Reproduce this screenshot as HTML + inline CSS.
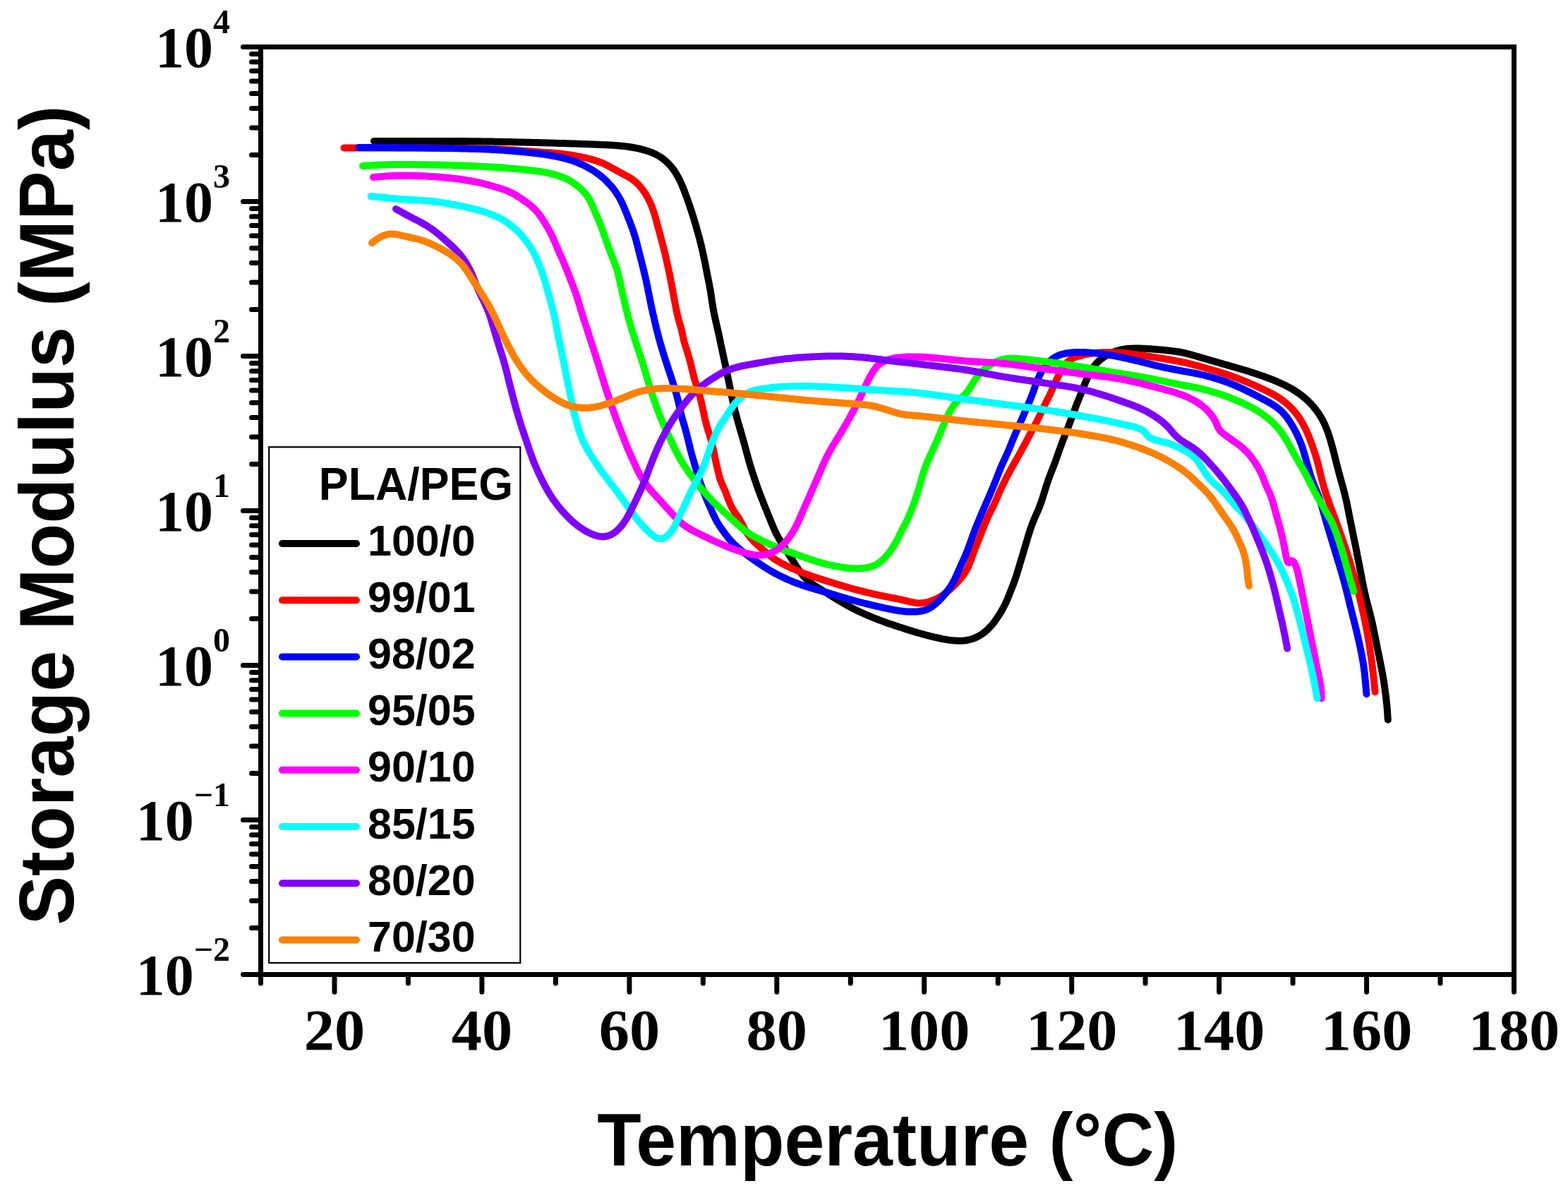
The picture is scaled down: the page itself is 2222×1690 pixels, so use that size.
<!DOCTYPE html>
<html><head><meta charset="utf-8"><title>Storage Modulus vs Temperature</title>
<style>
html,body{margin:0;padding:0;background:#fff;}
body{width:2222px;height:1690px;overflow:hidden;}
svg{display:block;}
.ser{font-family:"Liberation Serif","Times New Roman",serif;font-weight:bold;}
.san{font-family:"Liberation Sans",Arial,sans-serif;font-weight:bold;}
</style></head><body>
<svg width="2222" height="1690" viewBox="0 0 2222 1690">
<rect x="0" y="0" width="2222" height="1690" fill="#fff"/>

<path d="M369.5,1380.5H344.5 M369.5,1314.6H356.5 M369.5,1276.0H356.5 M369.5,1248.6H356.5 M369.5,1227.4H356.5 M369.5,1210.1H356.5 M369.5,1195.4H356.5 M369.5,1182.7H356.5 M369.5,1171.5H356.5 M369.5,1161.5H344.5 M369.5,1095.6H356.5 M369.5,1057.0H356.5 M369.5,1029.6H356.5 M369.5,1008.4H356.5 M369.5,991.1H356.5 M369.5,976.4H356.5 M369.5,963.7H356.5 M369.5,952.5H356.5 M369.5,942.5H344.5 M369.5,876.6H356.5 M369.5,838.0H356.5 M369.5,810.6H356.5 M369.5,789.4H356.5 M369.5,772.1H356.5 M369.5,757.4H356.5 M369.5,744.7H356.5 M369.5,733.5H356.5 M369.5,723.5H344.5 M369.5,657.6H356.5 M369.5,619.0H356.5 M369.5,591.6H356.5 M369.5,570.4H356.5 M369.5,553.1H356.5 M369.5,538.4H356.5 M369.5,525.7H356.5 M369.5,514.5H356.5 M369.5,504.5H344.5 M369.5,438.6H356.5 M369.5,400.0H356.5 M369.5,372.6H356.5 M369.5,351.4H356.5 M369.5,334.1H356.5 M369.5,319.4H356.5 M369.5,306.7H356.5 M369.5,295.5H356.5 M369.5,285.5H344.5 M369.5,219.6H356.5 M369.5,181.0H356.5 M369.5,153.6H356.5 M369.5,132.4H356.5 M369.5,115.1H356.5 M369.5,100.4H356.5 M369.5,87.7H356.5 M369.5,76.5H356.5 M369.5,66.5H344.5 M369.5,1380.5V1393.0 M474.0,1380.5V1405.3 M578.4,1380.5V1393.0 M682.9,1380.5V1405.3 M787.4,1380.5V1393.0 M891.9,1380.5V1405.3 M996.3,1380.5V1393.0 M1100.8,1380.5V1405.3 M1205.3,1380.5V1393.0 M1309.7,1380.5V1405.3 M1414.2,1380.5V1393.0 M1518.7,1380.5V1405.3 M1623.1,1380.5V1393.0 M1727.6,1380.5V1405.3 M1832.1,1380.5V1393.0 M1936.6,1380.5V1405.3 M2041.0,1380.5V1393.0 M2145.5,1380.5V1405.3" stroke="#000" stroke-width="7" fill="none" stroke-linecap="round"/>
<rect x="369.5" y="66.5" width="1776.0" height="1314.0" fill="none" stroke="#000" stroke-width="7"/>
<text class="ser" x="326" y="1409.0" text-anchor="end" font-size="82">10<tspan font-size="48" dy="-48">−2</tspan></text>
<text class="ser" x="326" y="1190.0" text-anchor="end" font-size="82">10<tspan font-size="48" dy="-48">−1</tspan></text>
<text class="ser" x="326" y="971.0" text-anchor="end" font-size="82">10<tspan font-size="48" dy="-48">0</tspan></text>
<text class="ser" x="326" y="752.0" text-anchor="end" font-size="82">10<tspan font-size="48" dy="-48">1</tspan></text>
<text class="ser" x="326" y="533.0" text-anchor="end" font-size="82">10<tspan font-size="48" dy="-48">2</tspan></text>
<text class="ser" x="326" y="314.0" text-anchor="end" font-size="82">10<tspan font-size="48" dy="-48">3</tspan></text>
<text class="ser" x="326" y="95.0" text-anchor="end" font-size="82">10<tspan font-size="48" dy="-48">4</tspan></text>
<text class="ser" transform="translate(474.0,1487) scale(1.035,1)" x="0" y="0" text-anchor="middle" font-size="83.5">20</text>
<text class="ser" transform="translate(682.9,1487) scale(1.035,1)" x="0" y="0" text-anchor="middle" font-size="83.5">40</text>
<text class="ser" transform="translate(891.9,1487) scale(1.035,1)" x="0" y="0" text-anchor="middle" font-size="83.5">60</text>
<text class="ser" transform="translate(1100.8,1487) scale(1.035,1)" x="0" y="0" text-anchor="middle" font-size="83.5">80</text>
<text class="ser" transform="translate(1309.7,1487) scale(1.035,1)" x="0" y="0" text-anchor="middle" font-size="83.5">100</text>
<text class="ser" transform="translate(1518.7,1487) scale(1.035,1)" x="0" y="0" text-anchor="middle" font-size="83.5">120</text>
<text class="ser" transform="translate(1727.6,1487) scale(1.035,1)" x="0" y="0" text-anchor="middle" font-size="83.5">140</text>
<text class="ser" transform="translate(1936.6,1487) scale(1.035,1)" x="0" y="0" text-anchor="middle" font-size="83.5">160</text>
<text class="ser" transform="translate(2145.5,1487) scale(1.035,1)" x="0" y="0" text-anchor="middle" font-size="83.5">180</text>
<text class="san" transform="translate(1257.8,1651) scale(0.974,1)" x="0" y="0" text-anchor="middle" font-size="105">Temperature (°C)</text>
<text class="san" transform="translate(104,730) rotate(-90) scale(0.959,1)" x="0" y="0" text-anchor="middle" font-size="109">Storage Modulus (MPa)</text>
<rect x="381.2" y="633.3" width="356.1" height="730.7" fill="#fff" stroke="#000" stroke-width="2.2"/>
<text class="san" transform="translate(451.8,708) scale(0.965,1)" x="0" y="0" font-size="65">PLA/PEG</text>
<line x1="400" y1="770.0" x2="505" y2="770.0" stroke="#000000" stroke-width="10" stroke-linecap="round"/>
<text class="san" x="521" y="786.5" font-size="61">100/0</text>
<line x1="400" y1="850.2" x2="505" y2="850.2" stroke="#FF0000" stroke-width="10" stroke-linecap="round"/>
<text class="san" x="521" y="866.7" font-size="61">99/01</text>
<line x1="400" y1="930.4" x2="505" y2="930.4" stroke="#0000FF" stroke-width="10" stroke-linecap="round"/>
<text class="san" x="521" y="946.9" font-size="61">98/02</text>
<line x1="400" y1="1010.6" x2="505" y2="1010.6" stroke="#00FF00" stroke-width="10" stroke-linecap="round"/>
<text class="san" x="521" y="1027.1" font-size="61">95/05</text>
<line x1="400" y1="1090.8" x2="505" y2="1090.8" stroke="#FF00FF" stroke-width="10" stroke-linecap="round"/>
<text class="san" x="521" y="1107.3" font-size="61">90/10</text>
<line x1="400" y1="1171.0" x2="505" y2="1171.0" stroke="#00FFFF" stroke-width="10" stroke-linecap="round"/>
<text class="san" x="521" y="1187.5" font-size="61">85/15</text>
<line x1="400" y1="1251.2" x2="505" y2="1251.2" stroke="#8000FF" stroke-width="10" stroke-linecap="round"/>
<text class="san" x="521" y="1267.7" font-size="61">80/20</text>
<line x1="400" y1="1331.4" x2="505" y2="1331.4" stroke="#FF8000" stroke-width="10" stroke-linecap="round"/>
<text class="san" x="521" y="1347.9" font-size="61">70/30</text>
<path d="M530.0,200.0 533.0,200.0 536.0,200.0 539.0,200.0 542.0,200.0 545.0,200.0 548.0,200.0 551.0,200.0 554.0,200.0 557.0,200.0 560.0,200.0 563.0,200.0 566.0,200.0 569.0,200.0 572.0,200.0 575.0,200.0 578.0,200.0 581.0,200.0 584.0,200.0 587.0,200.0 590.0,200.0 593.0,200.0 596.0,200.0 599.0,200.0 602.0,200.0 605.0,200.0 608.0,200.0 611.0,200.0 614.0,200.0 617.0,200.0 620.0,200.0 623.0,200.0 626.0,200.0 629.0,200.0 632.0,200.0 635.0,200.0 638.0,200.1 641.0,200.1 644.0,200.1 647.0,200.1 650.0,200.1 653.0,200.1 656.0,200.1 659.0,200.1 662.0,200.2 665.0,200.2 668.0,200.2 671.0,200.2 674.0,200.3 677.0,200.3 680.0,200.3 683.0,200.4 686.0,200.4 689.0,200.5 692.0,200.5 695.0,200.6 698.0,200.6 701.0,200.7 704.0,200.7 707.0,200.8 710.0,200.8 713.0,200.9 716.0,201.0 719.0,201.0 722.0,201.1 725.0,201.2 728.0,201.2 731.0,201.3 734.0,201.4 737.0,201.4 740.0,201.5 743.0,201.6 746.0,201.7 749.0,201.7 752.0,201.8 755.0,201.9 758.0,202.0 761.0,202.0 764.0,202.1 767.0,202.2 770.0,202.3 773.0,202.3 776.0,202.4 779.0,202.5 782.0,202.6 785.0,202.7 788.0,202.8 791.0,202.9 794.0,202.9 797.0,203.0 800.0,203.1 803.0,203.2 806.0,203.3 809.0,203.4 812.0,203.5 815.0,203.6 818.0,203.7 821.0,203.8 824.0,203.9 827.0,204.0 830.0,204.1 833.0,204.2 836.0,204.3 839.0,204.4 842.0,204.5 845.0,204.7 848.0,204.8 851.0,204.9 854.0,205.1 857.0,205.2 860.0,205.3 863.0,205.5 866.0,205.6 868.9,205.8 871.9,206.0 874.9,206.2 877.9,206.4 880.9,206.7 883.9,207.0 886.9,207.4 889.8,207.8 892.8,208.2 895.8,208.7 898.7,209.2 901.7,209.8 904.6,210.4 907.5,211.1 910.4,211.9 913.3,212.6 916.2,213.5 919.0,214.4 921.8,215.4 924.6,216.5 927.3,217.7 930.0,219.0 932.6,220.5 935.2,222.0 937.6,223.7 940.0,225.4 942.4,227.3 944.6,229.3 946.7,231.4 948.8,233.5 950.8,235.7 952.7,238.0 954.5,240.4 956.2,242.9 957.8,245.4 959.3,247.9 960.8,250.6 962.2,253.2 963.5,255.9 964.8,258.6 966.0,261.4 967.2,264.1 968.3,266.9 969.4,269.7 970.5,272.5 971.5,275.3 972.6,278.1 973.6,280.9 974.6,283.8 975.6,286.6 976.6,289.4 977.5,292.3 978.5,295.1 979.4,298.0 980.4,300.8 981.3,303.7 982.2,306.5 983.1,309.4 983.9,312.3 984.8,315.1 985.7,318.0 986.5,320.9 987.3,323.8 988.1,326.7 988.9,329.5 989.7,332.4 990.5,335.3 991.3,338.2 992.0,341.1 992.8,344.1 993.5,347.0 994.2,349.9 994.9,352.8 995.5,355.7 996.2,358.7 996.8,361.6 997.5,364.5 998.1,367.5 998.7,370.4 999.3,373.3 999.8,376.3 1000.4,379.2 1001.0,382.2 1001.6,385.1 1002.1,388.1 1002.7,391.0 1003.3,393.9 1003.9,396.9 1004.5,399.8 1005.1,402.8 1005.6,405.7 1006.2,408.7 1006.7,411.6 1007.1,414.6 1007.6,417.6 1008.1,420.5 1008.5,423.5 1008.9,426.5 1009.4,429.4 1009.8,432.4 1010.3,435.3 1010.8,438.3 1011.4,441.2 1012.0,444.2 1012.6,447.1 1013.2,450.1 1013.9,453.0 1014.5,455.9 1015.2,458.8 1015.9,461.8 1016.6,464.7 1017.2,467.6 1017.9,470.5 1018.5,473.5 1019.2,476.4 1019.8,479.3 1020.4,482.3 1021.0,485.2 1021.6,488.1 1022.3,491.1 1022.9,494.0 1023.5,496.9 1024.1,499.9 1024.8,502.8 1025.4,505.7 1026.0,508.7 1026.6,511.6 1027.3,514.5 1027.9,517.5 1028.5,520.4 1029.1,523.4 1029.7,526.3 1030.4,529.2 1031.0,532.2 1031.6,535.1 1032.2,538.0 1032.8,541.0 1033.4,543.9 1034.0,546.9 1034.6,549.8 1035.2,552.7 1035.8,555.7 1036.4,558.6 1037.0,561.6 1037.6,564.5 1038.2,567.4 1038.9,570.4 1039.5,573.3 1040.2,576.2 1040.9,579.1 1041.6,582.0 1042.4,584.9 1043.1,587.8 1043.9,590.7 1044.7,593.6 1045.5,596.5 1046.3,599.4 1047.2,602.3 1048.0,605.2 1048.8,608.1 1049.7,610.9 1050.5,613.8 1051.3,616.7 1052.2,619.6 1053.0,622.5 1053.8,625.4 1054.6,628.3 1055.4,631.1 1056.2,634.0 1057.0,636.9 1057.7,639.8 1058.5,642.7 1059.3,645.6 1060.1,648.5 1060.9,651.4 1061.7,654.3 1062.5,657.2 1063.4,660.1 1064.3,662.9 1065.2,665.8 1066.1,668.6 1067.0,671.5 1068.0,674.3 1068.9,677.2 1069.9,680.0 1070.9,682.9 1071.8,685.7 1072.8,688.5 1073.8,691.4 1074.8,694.2 1075.9,697.0 1076.9,699.8 1078.0,702.6 1079.1,705.4 1080.2,708.2 1081.3,711.0 1082.4,713.8 1083.5,716.6 1084.6,719.3 1085.8,722.1 1086.9,724.9 1088.0,727.7 1089.1,730.5 1090.3,733.2 1091.4,736.0 1092.5,738.8 1093.7,741.6 1094.8,744.4 1096.0,747.1 1097.2,749.9 1098.4,752.6 1099.7,755.3 1101.1,757.9 1102.5,760.6 1104.0,763.2 1105.5,765.8 1107.1,768.3 1108.6,770.9 1110.2,773.4 1111.8,776.0 1113.5,778.5 1115.1,781.0 1116.7,783.6 1118.3,786.1 1119.9,788.6 1121.5,791.2 1123.1,793.7 1124.7,796.2 1126.3,798.8 1127.9,801.3 1129.6,803.8 1131.3,806.3 1133.0,808.7 1134.7,811.2 1136.5,813.5 1138.4,815.8 1140.4,818.0 1142.5,820.2 1144.7,822.2 1147.0,824.1 1149.3,825.9 1151.8,827.7 1154.2,829.3 1156.8,831.0 1159.3,832.6 1161.8,834.1 1164.4,835.7 1167.0,837.3 1169.5,838.9 1172.1,840.4 1174.6,842.0 1177.1,843.6 1179.7,845.2 1182.2,846.8 1184.8,848.4 1187.3,849.9 1189.9,851.5 1192.5,853.0 1195.1,854.5 1197.7,856.0 1200.3,857.5 1202.9,858.9 1205.6,860.4 1208.2,861.7 1210.9,863.1 1213.6,864.4 1216.3,865.7 1219.0,867.0 1221.8,868.2 1224.5,869.5 1227.2,870.7 1230.0,871.9 1232.8,873.0 1235.5,874.2 1238.3,875.3 1241.1,876.4 1243.9,877.5 1246.7,878.6 1249.5,879.6 1252.3,880.7 1255.1,881.7 1258.0,882.7 1260.8,883.7 1263.6,884.6 1266.5,885.6 1269.3,886.5 1272.2,887.5 1275.0,888.4 1277.9,889.3 1280.7,890.2 1283.6,891.2 1286.5,892.1 1289.3,893.0 1292.2,893.9 1295.0,894.8 1297.9,895.6 1300.8,896.5 1303.7,897.3 1306.6,898.1 1309.5,898.9 1312.4,899.7 1315.3,900.4 1318.2,901.2 1321.1,901.9 1324.0,902.6 1326.9,903.2 1329.9,903.9 1332.8,904.5 1335.7,905.1 1338.7,905.6 1341.6,906.1 1344.6,906.6 1347.6,907.0 1350.5,907.3 1353.5,907.5 1356.5,907.7 1359.5,907.7 1362.5,907.7 1365.4,907.5 1368.4,907.2 1371.3,906.7 1374.2,906.0 1377.1,905.2 1379.9,904.3 1382.7,903.1 1385.3,901.9 1388.0,900.5 1390.5,898.9 1392.9,897.3 1395.3,895.5 1397.6,893.6 1399.8,891.5 1401.9,889.4 1403.9,887.2 1405.9,885.0 1407.8,882.6 1409.6,880.3 1411.3,877.8 1413.0,875.4 1414.7,872.9 1416.3,870.4 1417.9,867.8 1419.4,865.2 1420.9,862.6 1422.3,860.0 1423.7,857.3 1425.0,854.6 1426.2,851.9 1427.4,849.2 1428.6,846.4 1429.7,843.6 1430.8,840.8 1431.9,838.0 1433.0,835.2 1434.1,832.5 1435.2,829.7 1436.3,826.9 1437.3,824.1 1438.3,821.2 1439.3,818.4 1440.2,815.6 1441.1,812.7 1442.0,809.8 1442.9,807.0 1443.7,804.1 1444.6,801.2 1445.5,798.3 1446.3,795.5 1447.2,792.6 1448.1,789.7 1448.9,786.8 1449.8,784.0 1450.7,781.1 1451.5,778.2 1452.4,775.3 1453.2,772.5 1454.1,769.6 1454.9,766.7 1455.8,763.8 1456.6,761.0 1457.5,758.1 1458.4,755.2 1459.3,752.4 1460.2,749.5 1461.2,746.7 1462.2,743.9 1463.3,741.1 1464.4,738.3 1465.6,735.5 1466.7,732.7 1467.9,730.0 1469.1,727.2 1470.3,724.5 1471.5,721.7 1472.6,719.0 1473.7,716.2 1474.8,713.4 1475.7,710.5 1476.7,707.7 1477.6,704.8 1478.5,702.0 1479.4,699.1 1480.3,696.2 1481.2,693.4 1482.0,690.5 1483.0,687.6 1483.9,684.8 1484.8,682.0 1485.8,679.1 1486.9,676.3 1487.9,673.5 1489.0,670.7 1490.1,667.9 1491.2,665.1 1492.3,662.4 1493.4,659.6 1494.5,656.7 1495.5,653.9 1496.5,651.1 1497.5,648.3 1498.5,645.4 1499.5,642.6 1500.5,639.8 1501.5,636.9 1502.5,634.1 1503.5,631.3 1504.6,628.5 1505.6,625.7 1506.7,622.9 1507.8,620.1 1508.9,617.3 1510.0,614.5 1511.1,611.7 1512.2,608.9 1513.3,606.1 1514.4,603.3 1515.4,600.5 1516.5,597.7 1517.6,594.9 1518.6,592.1 1519.7,589.3 1520.7,586.5 1521.7,583.7 1522.8,580.9 1523.8,578.0 1524.8,575.2 1525.9,572.4 1527.0,569.6 1528.1,566.9 1529.2,564.1 1530.4,561.3 1531.5,558.5 1532.6,555.7 1533.6,552.9 1534.7,550.1 1535.8,547.3 1537.0,544.6 1538.1,541.8 1539.3,539.0 1540.6,536.3 1541.8,533.6 1543.1,530.9 1544.5,528.2 1545.9,525.6 1547.5,523.1 1549.1,520.6 1550.9,518.2 1552.8,515.9 1554.8,513.7 1556.9,511.7 1559.2,509.7 1561.5,507.9 1563.9,506.2 1566.4,504.5 1569.0,503.0 1571.6,501.6 1574.3,500.2 1577.0,499.0 1579.8,498.0 1582.6,497.0 1585.5,496.2 1588.4,495.5 1591.3,494.9 1594.2,494.4 1597.2,494.1 1600.2,493.8 1603.2,493.7 1606.2,493.6 1609.2,493.5 1612.2,493.5 1615.2,493.6 1618.2,493.7 1621.2,493.8 1624.2,494.0 1627.1,494.2 1630.1,494.3 1633.1,494.6 1636.1,494.8 1639.1,495.0 1642.1,495.3 1645.1,495.5 1648.1,495.8 1651.1,496.1 1654.1,496.4 1657.0,496.8 1660.0,497.1 1663.0,497.5 1666.0,497.9 1668.9,498.3 1671.9,498.8 1674.8,499.3 1677.8,499.9 1680.7,500.6 1683.6,501.3 1686.5,502.1 1689.4,502.9 1692.3,503.7 1695.2,504.5 1698.0,505.4 1700.9,506.2 1703.8,507.1 1706.7,507.9 1709.6,508.7 1712.4,509.5 1715.3,510.4 1718.2,511.2 1721.1,512.0 1724.0,512.9 1726.9,513.7 1729.7,514.5 1732.6,515.4 1735.5,516.2 1738.4,517.0 1741.3,517.9 1744.2,518.7 1747.0,519.5 1749.9,520.3 1752.8,521.2 1755.7,522.0 1758.6,522.8 1761.5,523.7 1764.3,524.5 1767.2,525.4 1770.1,526.3 1772.9,527.2 1775.8,528.1 1778.6,529.0 1781.5,530.0 1784.3,530.9 1787.2,531.9 1790.0,532.9 1792.8,534.0 1795.6,535.0 1798.4,536.0 1801.2,537.1 1804.0,538.2 1806.8,539.4 1809.6,540.5 1812.3,541.7 1815.0,542.9 1817.8,544.2 1820.5,545.5 1823.1,546.9 1825.8,548.3 1828.4,549.7 1831.0,551.2 1833.6,552.7 1836.1,554.3 1838.6,556.0 1841.1,557.7 1843.5,559.5 1845.9,561.3 1848.2,563.2 1850.4,565.1 1852.7,567.1 1854.8,569.2 1856.9,571.3 1859.0,573.5 1860.9,575.8 1862.9,578.1 1864.7,580.4 1866.5,582.8 1868.3,585.2 1869.9,587.7 1871.5,590.3 1873.0,592.8 1874.4,595.5 1875.8,598.1 1877.1,600.8 1878.3,603.6 1879.4,606.3 1880.5,609.1 1881.6,611.9 1882.6,614.8 1883.5,617.6 1884.4,620.5 1885.3,623.3 1886.1,626.2 1886.9,629.1 1887.7,632.0 1888.5,634.9 1889.3,637.8 1890.0,640.7 1890.8,643.6 1891.5,646.5 1892.2,649.4 1893.0,652.3 1893.7,655.3 1894.4,658.2 1895.2,661.1 1895.9,664.0 1896.7,666.9 1897.4,669.8 1898.2,672.7 1899.0,675.6 1899.8,678.5 1900.6,681.4 1901.4,684.3 1902.2,687.1 1903.0,690.0 1903.8,692.9 1904.5,695.8 1905.3,698.7 1906.0,701.6 1906.7,704.6 1907.4,707.5 1908.1,710.4 1908.7,713.3 1909.3,716.3 1909.9,719.2 1910.5,722.2 1911.1,725.1 1911.6,728.0 1912.2,731.0 1912.8,733.9 1913.4,736.9 1914.0,739.8 1914.6,742.7 1915.2,745.7 1915.8,748.6 1916.4,751.6 1917.0,754.5 1917.6,757.4 1918.2,760.4 1918.8,763.3 1919.4,766.3 1920.0,769.2 1920.6,772.1 1921.2,775.1 1921.8,778.0 1922.4,781.0 1923.0,783.9 1923.5,786.9 1924.1,789.8 1924.7,792.7 1925.3,795.7 1925.9,798.6 1926.5,801.6 1927.0,804.5 1927.6,807.5 1928.2,810.4 1928.7,813.4 1929.3,816.3 1929.9,819.2 1930.4,822.2 1931.0,825.1 1931.6,828.1 1932.2,831.0 1932.8,834.0 1933.4,836.9 1934.1,839.8 1934.7,842.7 1935.4,845.7 1936.1,848.6 1936.8,851.5 1937.6,854.4 1938.3,857.3 1939.1,860.2 1939.8,863.1 1940.6,866.0 1941.3,868.9 1942.1,871.8 1942.8,874.8 1943.5,877.7 1944.2,880.6 1944.8,883.5 1945.5,886.4 1946.1,889.4 1946.7,892.3 1947.4,895.3 1947.9,898.2 1948.5,901.1 1949.1,904.1 1949.7,907.0 1950.3,910.0 1950.8,912.9 1951.4,915.9 1952.0,918.8 1952.6,921.7 1953.2,924.7 1953.8,927.6 1954.4,930.6 1955.0,933.5 1955.6,936.4 1956.2,939.4 1956.8,942.3 1957.4,945.3 1957.9,948.2 1958.5,951.2 1959.1,954.1 1959.6,957.1 1960.1,960.0 1960.6,963.0 1961.1,965.9 1961.5,968.9 1962.0,971.9 1962.4,974.8 1962.8,977.8 1963.2,980.8 1963.6,983.8 1963.9,986.7 1964.3,989.7 1964.6,992.7 1964.9,995.7 1965.3,998.7 1965.5,1001.6 1965.8,1004.6 1966.0,1007.6 1966.2,1010.6 1966.4,1013.6 1966.6,1016.6 1966.8,1019.6" stroke="#000000" stroke-width="10" fill="none" stroke-linecap="round" stroke-linejoin="round"/>
<path d="M487.5,209.5 490.5,209.5 493.5,209.5 496.5,209.5 499.5,209.5 502.5,209.5 505.5,209.5 508.5,209.5 511.5,209.5 514.5,209.5 517.5,209.5 520.5,209.5 523.5,209.5 526.5,209.5 529.5,209.5 532.5,209.5 535.5,209.5 538.5,209.5 541.5,209.5 544.5,209.5 547.5,209.5 550.5,209.5 553.5,209.5 556.5,209.5 559.5,209.5 562.5,209.5 565.5,209.5 568.5,209.5 571.5,209.5 574.5,209.5 577.5,209.6 580.6,209.6 583.6,209.6 586.6,209.6 589.6,209.6 592.6,209.6 595.6,209.6 598.6,209.6 601.6,209.6 604.6,209.7 607.6,209.7 610.6,209.7 613.6,209.7 616.6,209.7 619.6,209.7 622.6,209.8 625.6,209.8 628.6,209.8 631.6,209.8 634.6,209.8 637.6,209.9 640.6,209.9 643.6,209.9 646.6,210.0 649.6,210.0 652.6,210.0 655.6,210.1 658.6,210.1 661.6,210.1 664.6,210.2 667.6,210.2 670.6,210.2 673.6,210.3 676.6,210.3 679.6,210.4 682.6,210.5 685.6,210.5 688.6,210.6 691.6,210.7 694.6,210.8 697.6,210.9 700.6,211.1 703.6,211.2 706.6,211.3 709.6,211.5 712.6,211.7 715.6,211.8 718.6,212.0 721.6,212.2 724.6,212.4 727.6,212.6 730.6,212.8 733.6,213.0 736.6,213.2 739.5,213.5 742.5,213.7 745.5,213.9 748.5,214.1 751.5,214.3 754.5,214.6 757.5,214.8 760.5,215.0 763.5,215.2 766.5,215.4 769.5,215.7 772.5,215.9 775.5,216.1 778.5,216.3 781.5,216.5 784.4,216.7 787.4,217.0 790.4,217.3 793.4,217.6 796.4,217.9 799.4,218.3 802.3,218.7 805.3,219.1 808.3,219.5 811.2,220.0 814.2,220.5 817.2,221.1 820.1,221.6 823.1,222.2 826.0,222.8 828.9,223.4 831.8,224.1 834.8,224.8 837.7,225.6 840.6,226.4 843.4,227.2 846.3,228.2 849.1,229.2 851.9,230.2 854.6,231.4 857.4,232.7 860.0,234.0 862.7,235.4 865.3,236.8 867.9,238.3 870.6,239.8 873.2,241.2 875.8,242.7 878.4,244.1 881.1,245.5 883.8,246.9 886.4,248.3 889.0,249.7 891.6,251.2 894.1,252.8 896.6,254.5 898.9,256.4 901.2,258.3 903.4,260.3 905.5,262.5 907.5,264.7 909.4,267.0 911.2,269.4 912.9,271.8 914.6,274.3 916.1,276.9 917.6,279.5 919.0,282.1 920.3,284.8 921.6,287.5 922.8,290.3 923.9,293.1 924.9,295.9 925.9,298.7 926.9,301.5 927.7,304.4 928.6,307.3 929.4,310.2 930.1,313.1 930.9,316.0 931.7,318.9 932.5,321.8 933.3,324.7 934.1,327.6 934.9,330.5 935.7,333.4 936.4,336.3 937.2,339.2 938.0,342.1 938.8,345.0 939.5,347.9 940.2,350.8 941.0,353.7 941.7,356.6 942.4,359.5 943.1,362.4 943.8,365.4 944.4,368.3 945.1,371.2 945.7,374.1 946.4,377.1 947.0,380.0 947.6,383.0 948.3,385.9 948.9,388.8 949.5,391.8 950.1,394.7 950.6,397.7 951.2,400.6 951.8,403.6 952.3,406.5 952.9,409.5 953.4,412.4 953.9,415.4 954.5,418.3 955.0,421.3 955.6,424.2 956.1,427.2 956.7,430.1 957.3,433.1 957.8,436.0 958.4,438.9 959.1,441.9 959.7,444.8 960.4,447.7 961.1,450.6 961.9,453.5 962.7,456.4 963.5,459.3 964.4,462.2 965.2,465.1 965.9,468.0 966.6,470.9 967.2,473.8 967.9,476.7 968.5,479.7 969.2,482.6 969.9,485.5 970.8,488.4 971.6,491.2 972.6,494.1 973.5,496.9 974.4,499.8 975.3,502.7 976.1,505.5 976.9,508.4 977.7,511.3 978.5,514.2 979.2,517.1 979.9,520.1 980.6,523.0 981.3,525.9 982.0,528.8 982.7,531.7 983.5,534.6 984.3,537.5 985.2,540.4 986.1,543.3 986.9,546.1 987.8,549.0 988.7,551.9 989.6,554.7 990.5,557.6 991.4,560.5 992.2,563.3 993.0,566.2 993.7,569.1 994.4,572.1 995.1,575.0 995.7,577.9 996.3,580.9 996.9,583.8 997.5,586.7 998.2,589.7 998.8,592.6 999.5,595.5 1000.3,598.4 1001.0,601.3 1001.8,604.2 1002.7,607.1 1003.5,610.0 1004.4,612.8 1005.4,615.7 1006.3,618.5 1007.1,621.4 1008.0,624.3 1008.7,627.2 1009.4,630.1 1010.1,633.0 1010.7,636.0 1011.3,638.9 1011.9,641.8 1012.5,644.8 1013.1,647.7 1013.7,650.7 1014.4,653.6 1015.0,656.5 1015.7,659.5 1016.3,662.4 1017.0,665.3 1017.7,668.2 1018.4,671.1 1019.1,674.1 1019.9,676.9 1020.8,679.8 1021.8,682.6 1023.0,685.3 1024.2,688.0 1025.5,690.7 1026.7,693.5 1027.9,696.2 1029.0,699.0 1030.0,701.8 1031.0,704.6 1032.1,707.4 1033.2,710.2 1034.3,713.0 1035.5,715.7 1036.9,718.4 1038.3,721.0 1039.8,723.6 1041.4,726.1 1043.1,728.6 1044.8,731.0 1046.5,733.5 1048.1,736.0 1049.6,738.6 1051.0,741.2 1052.4,743.9 1053.7,746.5 1055.1,749.2 1056.5,751.8 1058.1,754.4 1059.8,756.8 1061.5,759.2 1063.4,761.6 1065.4,763.8 1067.4,766.0 1069.5,768.2 1071.7,770.2 1073.9,772.3 1076.1,774.3 1078.3,776.3 1080.6,778.2 1082.9,780.2 1085.1,782.2 1087.4,784.1 1089.7,786.1 1092.0,787.9 1094.4,789.7 1096.9,791.5 1099.4,793.1 1101.9,794.7 1104.5,796.2 1107.1,797.6 1109.8,799.0 1112.5,800.4 1115.1,801.7 1117.9,803.0 1120.6,804.2 1123.3,805.5 1126.1,806.7 1128.8,807.9 1131.6,809.0 1134.4,810.2 1137.2,811.3 1140.0,812.4 1142.8,813.4 1145.6,814.4 1148.4,815.4 1151.3,816.4 1154.1,817.4 1156.9,818.3 1159.8,819.3 1162.7,820.2 1165.5,821.1 1168.4,822.0 1171.2,822.9 1174.1,823.8 1176.9,824.8 1179.8,825.6 1182.7,826.5 1185.6,827.4 1188.4,828.3 1191.3,829.1 1194.2,830.0 1197.1,830.8 1199.9,831.6 1202.8,832.5 1205.7,833.3 1208.6,834.1 1211.5,834.8 1214.4,835.6 1217.3,836.4 1220.2,837.1 1223.1,837.9 1226.1,838.6 1229.0,839.3 1231.9,840.0 1234.8,840.7 1237.7,841.4 1240.7,842.0 1243.6,842.7 1246.5,843.3 1249.5,843.9 1252.4,844.5 1255.3,845.1 1258.3,845.7 1261.2,846.3 1264.2,846.9 1267.1,847.4 1270.1,848.0 1273.0,848.6 1275.9,849.2 1278.9,849.9 1281.8,850.6 1284.7,851.3 1287.6,852.0 1290.5,852.7 1293.5,853.3 1296.4,853.8 1299.3,854.2 1302.3,854.4 1305.3,854.3 1308.2,854.1 1311.1,853.6 1314.0,853.0 1316.9,852.2 1319.7,851.3 1322.5,850.2 1325.3,849.0 1328.0,847.8 1330.6,846.4 1333.2,844.9 1335.8,843.3 1338.2,841.6 1340.6,839.8 1342.9,837.9 1345.2,836.0 1347.4,834.0 1349.6,831.9 1351.7,829.8 1353.9,827.7 1355.9,825.5 1358.0,823.3 1359.9,821.1 1361.9,818.8 1363.7,816.4 1365.5,814.0 1367.2,811.6 1368.8,809.0 1370.3,806.5 1371.7,803.8 1372.9,801.1 1374.0,798.3 1375.1,795.5 1376.1,792.7 1377.1,789.9 1378.1,787.0 1379.2,784.2 1380.2,781.4 1381.3,778.6 1382.4,775.8 1383.5,773.0 1384.6,770.3 1385.7,767.5 1386.9,764.7 1388.0,761.9 1389.1,759.1 1390.2,756.3 1391.3,753.5 1392.4,750.7 1393.5,747.9 1394.6,745.1 1395.7,742.4 1396.8,739.6 1398.0,736.8 1399.2,734.1 1400.4,731.3 1401.7,728.6 1403.1,725.9 1404.4,723.3 1405.8,720.6 1407.2,717.9 1408.5,715.2 1409.7,712.5 1410.9,709.8 1412.1,707.0 1413.3,704.3 1414.4,701.5 1415.6,698.7 1416.8,696.0 1418.1,693.3 1419.4,690.5 1420.7,687.8 1422.0,685.1 1423.3,682.5 1424.7,679.8 1426.0,677.1 1427.4,674.4 1428.8,671.8 1430.2,669.1 1431.6,666.5 1433.1,663.9 1434.5,661.2 1436.0,658.6 1437.4,656.0 1438.9,653.4 1440.4,650.8 1441.9,648.1 1443.4,645.5 1444.8,642.9 1446.3,640.3 1447.7,637.7 1449.1,635.0 1450.6,632.4 1452.0,629.7 1453.4,627.1 1454.8,624.4 1456.2,621.8 1457.6,619.1 1459.0,616.4 1460.4,613.8 1461.8,611.1 1463.2,608.5 1464.6,605.8 1466.0,603.2 1467.4,600.5 1468.8,597.9 1470.2,595.2 1471.5,592.5 1472.9,589.8 1474.2,587.1 1475.5,584.4 1476.7,581.7 1478.0,579.0 1479.3,576.3 1480.6,573.6 1481.9,570.9 1483.2,568.2 1484.5,565.5 1485.9,562.8 1487.2,560.1 1488.5,557.4 1489.7,554.7 1490.9,551.9 1492.2,549.2 1493.4,546.4 1494.6,543.7 1495.8,541.0 1497.1,538.2 1498.4,535.5 1499.8,532.9 1501.1,530.2 1502.6,527.6 1504.0,524.9 1505.5,522.4 1507.1,519.8 1508.8,517.4 1510.7,515.1 1512.7,512.9 1514.8,511.0 1517.2,509.3 1519.7,507.8 1522.4,506.6 1525.2,505.6 1528.0,504.7 1530.9,503.9 1533.8,503.1 1536.7,502.4 1539.6,501.8 1542.6,501.2 1545.5,500.7 1548.5,500.2 1551.5,499.9 1554.4,499.6 1557.4,499.4 1560.4,499.3 1563.4,499.2 1566.4,499.2 1569.4,499.1 1572.4,499.2 1575.4,499.2 1578.4,499.3 1581.4,499.5 1584.4,499.6 1587.4,499.8 1590.4,500.0 1593.4,500.3 1596.4,500.6 1599.4,500.9 1602.3,501.2 1605.3,501.6 1608.3,502.0 1611.3,502.4 1614.2,502.8 1617.2,503.3 1620.2,503.7 1623.2,504.2 1626.1,504.6 1629.1,505.0 1632.1,505.5 1635.0,505.9 1638.0,506.4 1641.0,506.9 1643.9,507.3 1646.9,507.8 1649.9,508.3 1652.8,508.8 1655.8,509.3 1658.7,509.8 1661.7,510.3 1664.6,510.8 1667.6,511.4 1670.5,511.9 1673.5,512.5 1676.4,513.1 1679.4,513.7 1682.3,514.4 1685.2,515.1 1688.1,515.8 1691.0,516.6 1693.9,517.3 1696.8,518.1 1699.7,518.9 1702.6,519.7 1705.5,520.5 1708.4,521.3 1711.3,522.2 1714.2,523.0 1717.0,523.8 1719.9,524.7 1722.8,525.5 1725.7,526.4 1728.5,527.3 1731.4,528.2 1734.3,529.1 1737.1,530.0 1739.9,531.0 1742.8,532.0 1745.6,533.0 1748.4,534.0 1751.2,535.1 1754.1,536.1 1756.9,537.2 1759.7,538.3 1762.4,539.4 1765.2,540.5 1768.0,541.7 1770.8,542.8 1773.5,544.0 1776.3,545.2 1779.0,546.4 1781.8,547.7 1784.5,548.9 1787.2,550.2 1789.9,551.4 1792.7,552.7 1795.4,554.0 1798.0,555.3 1800.7,556.7 1803.4,558.1 1806.0,559.6 1808.6,561.1 1811.1,562.6 1813.6,564.3 1816.1,566.0 1818.5,567.8 1820.8,569.6 1823.1,571.6 1825.4,573.5 1827.6,575.6 1829.7,577.7 1831.7,579.9 1833.7,582.1 1835.6,584.4 1837.5,586.8 1839.3,589.2 1841.0,591.6 1842.6,594.2 1844.2,596.7 1845.7,599.3 1847.1,601.9 1848.5,604.6 1849.9,607.3 1851.2,610.0 1852.4,612.7 1853.6,615.5 1854.7,618.2 1855.8,621.0 1856.9,623.8 1858.0,626.6 1859.0,629.4 1860.0,632.3 1861.0,635.1 1862.0,637.9 1862.9,640.8 1863.9,643.6 1864.7,646.5 1865.6,649.4 1866.4,652.3 1867.2,655.2 1867.9,658.1 1868.7,661.0 1869.4,663.9 1870.1,666.8 1870.8,669.7 1871.5,672.6 1872.3,675.6 1873.0,678.5 1873.8,681.4 1874.5,684.3 1875.3,687.2 1876.1,690.1 1876.9,692.9 1877.8,695.8 1878.7,698.7 1879.6,701.5 1880.6,704.4 1881.6,707.2 1882.6,710.0 1883.6,712.9 1884.6,715.7 1885.7,718.5 1886.8,721.3 1887.8,724.1 1888.9,726.9 1890.0,729.7 1891.0,732.5 1892.1,735.3 1893.1,738.1 1894.1,741.0 1895.2,743.8 1896.2,746.6 1897.2,749.4 1898.2,752.3 1899.2,755.1 1900.2,757.9 1901.2,760.7 1902.2,763.6 1903.2,766.4 1904.2,769.3 1905.1,772.1 1906.1,774.9 1907.0,777.8 1908.0,780.6 1908.9,783.5 1909.8,786.4 1910.7,789.2 1911.6,792.1 1912.5,794.9 1913.4,797.8 1914.3,800.7 1915.1,803.6 1916.0,806.4 1916.8,809.3 1917.7,812.2 1918.5,815.1 1919.3,818.0 1920.1,820.9 1920.9,823.8 1921.7,826.7 1922.5,829.6 1923.2,832.5 1924.0,835.4 1924.7,838.3 1925.5,841.2 1926.2,844.1 1926.9,847.0 1927.6,849.9 1928.3,852.9 1929.0,855.8 1929.7,858.7 1930.3,861.6 1931.0,864.6 1931.6,867.5 1932.3,870.4 1932.9,873.4 1933.5,876.3 1934.1,879.2 1934.7,882.2 1935.3,885.1 1935.9,888.1 1936.4,891.0 1937.0,894.0 1937.5,896.9 1938.0,899.9 1938.6,902.8 1939.1,905.8 1939.6,908.7 1940.1,911.7 1940.5,914.7 1941.0,917.6 1941.5,920.6 1941.9,923.6 1942.3,926.5 1942.8,929.5 1943.2,932.5 1943.6,935.5 1944.0,938.4 1944.4,941.4 1944.8,944.4 1945.1,947.4 1945.5,950.3 1945.8,953.3 1946.1,956.3 1946.5,959.3 1946.8,962.3 1947.1,965.3 1947.4,968.3 1947.7,971.2 1948.0,974.2 1948.3,977.2 1948.6,980.2" stroke="#FF0000" stroke-width="10" fill="none" stroke-linecap="round" stroke-linejoin="round"/>
<path d="M508.5,209.0 511.5,209.0 514.5,209.0 517.5,209.0 520.5,209.0 523.5,209.1 526.5,209.1 529.5,209.1 532.5,209.1 535.5,209.1 538.5,209.1 541.5,209.1 544.5,209.1 547.5,209.1 550.5,209.1 553.5,209.1 556.5,209.1 559.5,209.2 562.5,209.2 565.5,209.2 568.5,209.2 571.5,209.2 574.5,209.2 577.5,209.3 580.5,209.3 583.5,209.3 586.5,209.3 589.5,209.4 592.5,209.4 595.5,209.4 598.5,209.5 601.5,209.5 604.5,209.6 607.5,209.6 610.5,209.7 613.5,209.7 616.5,209.7 619.5,209.8 622.5,209.8 625.5,209.9 628.5,209.9 631.5,210.0 634.5,210.0 637.5,210.1 640.5,210.1 643.5,210.2 646.5,210.2 649.5,210.3 652.5,210.4 655.5,210.4 658.5,210.5 661.5,210.6 664.5,210.7 667.5,210.7 670.5,210.8 673.5,210.9 676.5,211.0 679.5,211.1 682.5,211.2 685.5,211.3 688.5,211.5 691.5,211.6 694.5,211.7 697.5,211.9 700.5,212.1 703.5,212.2 706.5,212.4 709.5,212.6 712.5,212.8 715.5,213.0 718.5,213.2 721.5,213.5 724.5,213.7 727.5,213.9 730.5,214.2 733.4,214.5 736.4,214.7 739.4,215.0 742.4,215.3 745.4,215.6 748.4,215.9 751.4,216.2 754.3,216.6 757.3,216.9 760.3,217.3 763.3,217.6 766.3,218.0 769.2,218.4 772.2,218.9 775.2,219.3 778.1,219.8 781.1,220.3 784.0,220.9 787.0,221.4 789.9,222.0 792.8,222.7 795.8,223.3 798.7,224.0 801.6,224.8 804.5,225.6 807.4,226.4 810.2,227.3 813.1,228.3 815.9,229.3 818.7,230.4 821.4,231.6 824.2,232.8 826.9,234.1 829.5,235.4 832.2,236.8 834.8,238.3 837.4,239.7 840.0,241.3 842.5,242.9 845.0,244.6 847.4,246.3 849.8,248.1 852.2,250.0 854.5,251.9 856.7,253.9 858.9,256.0 861.0,258.1 863.0,260.3 865.0,262.5 867.0,264.8 868.9,267.1 870.7,269.5 872.4,271.9 874.1,274.4 875.7,276.9 877.3,279.5 878.8,282.1 880.1,284.8 881.5,287.4 882.7,290.2 883.9,292.9 885.1,295.7 886.2,298.4 887.4,301.2 888.5,304.0 889.6,306.8 890.7,309.6 891.8,312.4 892.9,315.2 893.9,318.0 895.0,320.8 896.0,323.6 897.0,326.5 898.0,329.3 898.9,332.1 899.8,335.0 900.6,337.9 901.5,340.8 902.2,343.7 903.0,346.6 903.7,349.5 904.5,352.4 905.2,355.3 905.9,358.2 906.7,361.1 907.4,364.0 908.1,366.9 908.9,369.8 909.6,372.8 910.3,375.7 911.1,378.6 911.8,381.5 912.5,384.4 913.2,387.3 913.9,390.2 914.6,393.2 915.3,396.1 915.9,399.0 916.6,401.9 917.2,404.9 917.8,407.8 918.4,410.8 918.9,413.7 919.5,416.7 920.1,419.6 920.7,422.5 921.3,425.5 921.9,428.4 922.5,431.4 923.1,434.3 923.7,437.2 924.4,440.2 925.0,443.1 925.7,446.0 926.4,448.9 927.1,451.9 927.7,454.8 928.4,457.7 929.1,460.6 929.8,463.5 930.5,466.5 931.3,469.4 932.0,472.3 932.8,475.2 933.5,478.1 934.3,481.0 935.1,483.9 935.9,486.8 936.8,489.6 937.6,492.5 938.5,495.4 939.4,498.3 940.2,501.1 941.1,504.0 942.0,506.9 942.9,509.7 943.9,512.6 944.8,515.4 945.7,518.3 946.6,521.1 947.6,524.0 948.5,526.8 949.5,529.7 950.4,532.5 951.4,535.4 952.3,538.2 953.2,541.1 954.1,544.0 955.0,546.8 955.9,549.7 956.8,552.6 957.7,555.4 958.5,558.3 959.3,561.2 960.1,564.1 960.8,567.0 961.5,569.9 962.2,572.8 962.8,575.8 963.4,578.7 964.1,581.6 964.7,584.6 965.4,587.5 966.1,590.4 966.9,593.3 967.8,596.2 968.6,599.0 969.5,601.9 970.3,604.8 971.1,607.7 971.9,610.6 972.7,613.5 973.4,616.4 974.1,619.3 974.9,622.2 975.6,625.1 976.3,628.0 977.0,631.0 977.7,633.9 978.5,636.8 979.2,639.7 980.0,642.6 980.8,645.5 981.6,648.4 982.4,651.2 983.3,654.1 984.1,657.0 985.0,659.9 985.9,662.7 986.7,665.6 987.6,668.5 988.4,671.4 989.3,674.2 990.2,677.1 991.1,680.0 992.0,682.8 993.0,685.7 994.0,688.5 995.0,691.3 996.1,694.1 997.2,696.9 998.3,699.7 999.4,702.5 1000.5,705.3 1001.7,708.0 1002.8,710.8 1004.0,713.5 1005.3,716.3 1006.5,719.0 1007.7,721.8 1008.9,724.5 1010.1,727.3 1011.4,730.0 1012.7,732.7 1014.0,735.4 1015.4,738.0 1016.9,740.6 1018.5,743.1 1020.1,745.7 1021.8,748.1 1023.5,750.6 1025.3,753.0 1027.1,755.4 1028.8,757.8 1030.7,760.2 1032.6,762.5 1034.5,764.8 1036.5,767.0 1038.6,769.2 1040.7,771.3 1042.9,773.3 1045.2,775.3 1047.4,777.3 1049.7,779.2 1052.1,781.1 1054.4,783.0 1056.8,784.8 1059.2,786.6 1061.6,788.4 1064.1,790.1 1066.5,791.9 1069.0,793.6 1071.4,795.3 1073.9,797.0 1076.4,798.7 1078.9,800.3 1081.4,802.0 1083.9,803.6 1086.4,805.2 1089.0,806.8 1091.5,808.4 1094.1,809.9 1096.8,811.3 1099.4,812.8 1102.1,814.1 1104.7,815.5 1107.4,816.8 1110.1,818.1 1112.9,819.4 1115.6,820.6 1118.3,821.8 1121.1,823.0 1123.9,824.1 1126.7,825.3 1129.4,826.3 1132.3,827.4 1135.1,828.4 1137.9,829.4 1140.8,830.3 1143.6,831.3 1146.5,832.1 1149.4,833.0 1152.2,833.8 1155.1,834.6 1158.0,835.4 1160.9,836.3 1163.8,837.1 1166.7,837.9 1169.6,838.8 1172.4,839.6 1175.3,840.5 1178.2,841.4 1181.1,842.2 1183.9,843.1 1186.8,844.0 1189.7,844.9 1192.5,845.7 1195.4,846.6 1198.3,847.4 1201.2,848.3 1204.1,849.1 1206.9,849.9 1209.8,850.7 1212.7,851.5 1215.6,852.2 1218.5,853.0 1221.5,853.7 1224.4,854.5 1227.3,855.2 1230.2,855.9 1233.1,856.6 1236.0,857.3 1239.0,858.0 1241.9,858.6 1244.8,859.3 1247.7,860.0 1250.7,860.6 1253.6,861.3 1256.5,861.9 1259.5,862.5 1262.4,863.1 1265.4,863.7 1268.3,864.2 1271.3,864.7 1274.2,865.2 1277.2,865.6 1280.2,865.9 1283.2,866.2 1286.1,866.4 1289.1,866.5 1292.1,866.6 1295.1,866.5 1298.1,866.4 1301.1,866.2 1304.0,865.8 1307.0,865.3 1309.8,864.6 1312.6,863.7 1315.3,862.5 1317.9,861.1 1320.4,859.6 1322.8,857.8 1325.1,855.9 1327.4,854.0 1329.6,851.9 1331.7,849.8 1333.7,847.6 1335.8,845.4 1337.7,843.1 1339.6,840.8 1341.5,838.5 1343.3,836.1 1345.0,833.7 1346.7,831.2 1348.4,828.7 1349.9,826.1 1351.4,823.5 1352.7,820.8 1354.0,818.1 1355.3,815.4 1356.5,812.7 1357.7,809.9 1358.9,807.2 1360.1,804.4 1361.3,801.7 1362.6,799.0 1363.8,796.2 1365.1,793.5 1366.3,790.8 1367.5,788.0 1368.7,785.3 1369.8,782.5 1371.0,779.7 1372.0,776.9 1373.1,774.1 1374.1,771.3 1375.1,768.4 1376.1,765.6 1377.1,762.8 1378.1,760.0 1379.1,757.1 1380.2,754.3 1381.2,751.5 1382.3,748.7 1383.4,745.9 1384.6,743.2 1385.7,740.4 1386.8,737.6 1388.0,734.8 1389.2,732.1 1390.3,729.3 1391.5,726.5 1392.7,723.8 1393.9,721.0 1395.1,718.3 1396.3,715.5 1397.5,712.8 1398.7,710.0 1399.9,707.3 1401.1,704.5 1402.3,701.8 1403.4,699.0 1404.6,696.3 1405.8,693.5 1406.9,690.7 1408.1,687.9 1409.2,685.1 1410.3,682.4 1411.4,679.6 1412.5,676.8 1413.6,674.0 1414.7,671.2 1415.8,668.4 1416.9,665.6 1418.0,662.8 1419.2,660.1 1420.4,657.3 1421.6,654.6 1422.9,651.9 1424.2,649.1 1425.4,646.4 1426.7,643.7 1427.9,641.0 1429.1,638.2 1430.3,635.5 1431.4,632.7 1432.5,629.9 1433.6,627.1 1434.7,624.3 1435.9,621.5 1437.0,618.8 1438.2,616.0 1439.4,613.3 1440.6,610.5 1441.9,607.8 1443.1,605.0 1444.3,602.3 1445.5,599.6 1446.7,596.8 1447.9,594.1 1449.1,591.3 1450.3,588.5 1451.5,585.8 1452.6,583.0 1453.8,580.3 1455.0,577.5 1456.2,574.7 1457.4,572.0 1458.6,569.2 1459.7,566.5 1460.9,563.7 1462.0,560.9 1463.0,558.1 1464.1,555.3 1465.1,552.5 1466.1,549.6 1467.0,546.8 1468.0,544.0 1469.1,541.2 1470.2,538.4 1471.4,535.6 1472.7,532.9 1474.0,530.3 1475.4,527.6 1477.0,525.0 1478.6,522.5 1480.3,520.1 1482.1,517.7 1484.0,515.4 1486.0,513.3 1488.2,511.2 1490.4,509.2 1492.8,507.5 1495.3,505.9 1497.9,504.5 1500.6,503.3 1503.4,502.3 1506.2,501.5 1509.1,500.8 1512.1,500.3 1515.0,499.9 1518.0,499.5 1521.0,499.3 1524.0,499.1 1527.0,499.0 1530.0,498.9 1533.0,499.0 1536.0,499.0 1539.0,499.2 1542.0,499.4 1544.9,499.6 1547.9,499.9 1550.9,500.1 1553.9,500.5 1556.9,500.8 1559.9,501.2 1562.8,501.6 1565.8,502.0 1568.8,502.4 1571.7,502.9 1574.7,503.4 1577.7,503.9 1580.6,504.4 1583.6,505.0 1586.5,505.6 1589.4,506.2 1592.4,506.8 1595.3,507.5 1598.2,508.1 1601.2,508.8 1604.1,509.4 1607.0,510.1 1609.9,510.8 1612.8,511.5 1615.8,512.2 1618.7,513.0 1621.6,513.7 1624.5,514.5 1627.4,515.2 1630.3,515.9 1633.2,516.6 1636.1,517.4 1639.0,518.1 1642.0,518.7 1644.9,519.4 1647.8,520.0 1650.8,520.6 1653.7,521.3 1656.6,521.9 1659.6,522.5 1662.5,523.0 1665.5,523.6 1668.4,524.2 1671.4,524.8 1674.3,525.3 1677.3,525.9 1680.2,526.4 1683.2,526.9 1686.1,527.4 1689.1,527.9 1692.0,528.5 1695.0,529.1 1697.9,529.7 1700.8,530.3 1703.8,531.0 1706.7,531.7 1709.6,532.5 1712.5,533.2 1715.4,534.0 1718.3,534.8 1721.1,535.7 1724.0,536.5 1726.9,537.4 1729.7,538.4 1732.6,539.3 1735.4,540.3 1738.2,541.3 1741.1,542.4 1743.9,543.4 1746.6,544.6 1749.4,545.7 1752.2,546.9 1754.9,548.1 1757.7,549.3 1760.4,550.6 1763.1,551.8 1765.8,553.1 1768.5,554.5 1771.2,555.8 1773.9,557.2 1776.5,558.5 1779.2,559.9 1781.9,561.3 1784.5,562.7 1787.2,564.1 1789.8,565.5 1792.5,566.9 1795.1,568.3 1797.7,569.7 1800.4,571.2 1802.9,572.8 1805.4,574.4 1807.9,576.1 1810.3,577.8 1812.7,579.7 1814.9,581.6 1817.1,583.7 1819.1,585.9 1821.1,588.1 1823.0,590.4 1824.7,592.9 1826.4,595.3 1828.1,597.8 1829.7,600.4 1831.2,602.9 1832.7,605.5 1834.2,608.1 1835.6,610.8 1837.0,613.4 1838.3,616.1 1839.6,618.8 1840.8,621.6 1842.0,624.3 1843.1,627.1 1844.2,629.9 1845.2,632.7 1846.1,635.6 1847.0,638.5 1847.9,641.3 1848.7,644.2 1849.5,647.1 1850.4,650.0 1851.2,652.9 1852.0,655.8 1852.8,658.6 1853.6,661.5 1854.5,664.4 1855.3,667.3 1856.2,670.2 1857.0,673.0 1857.9,675.9 1858.9,678.7 1859.9,681.6 1861.0,684.4 1862.1,687.1 1863.3,689.9 1864.4,692.7 1865.6,695.4 1866.8,698.2 1867.8,701.0 1868.9,703.8 1869.8,706.6 1870.8,709.5 1871.6,712.3 1872.5,715.2 1873.4,718.1 1874.2,721.0 1875.0,723.9 1875.8,726.8 1876.7,729.6 1877.5,732.5 1878.3,735.4 1879.2,738.3 1880.0,741.2 1880.9,744.0 1881.7,746.9 1882.6,749.8 1883.5,752.7 1884.3,755.5 1885.2,758.4 1886.1,761.3 1886.9,764.2 1887.8,767.0 1888.7,769.9 1889.5,772.8 1890.4,775.6 1891.3,778.5 1892.2,781.4 1893.0,784.3 1893.9,787.1 1894.8,790.0 1895.6,792.9 1896.5,795.7 1897.4,798.6 1898.3,801.5 1899.1,804.4 1900.0,807.2 1900.8,810.1 1901.7,813.0 1902.5,815.9 1903.3,818.8 1904.1,821.7 1904.9,824.6 1905.7,827.5 1906.4,830.4 1907.2,833.3 1907.9,836.2 1908.6,839.1 1909.4,842.0 1910.1,844.9 1910.8,847.8 1911.5,850.7 1912.2,853.7 1912.9,856.6 1913.6,859.5 1914.4,862.4 1915.1,865.3 1915.8,868.2 1916.6,871.1 1917.3,874.0 1918.1,876.9 1918.8,879.9 1919.5,882.8 1920.3,885.7 1921.0,888.6 1921.7,891.5 1922.4,894.4 1923.1,897.3 1923.8,900.3 1924.5,903.2 1925.1,906.1 1925.8,909.0 1926.4,912.0 1927.1,914.9 1927.7,917.8 1928.3,920.8 1928.9,923.7 1929.5,926.7 1930.1,929.6 1930.6,932.6 1931.1,935.5 1931.6,938.5 1932.1,941.4 1932.5,944.4 1932.9,947.4 1933.3,950.3 1933.7,953.3 1934.0,956.3 1934.3,959.3 1934.6,962.3 1934.9,965.3 1935.1,968.3 1935.4,971.2 1935.7,974.2 1936.0,977.2 1936.2,980.2 1936.5,983.2" stroke="#0000FF" stroke-width="10" fill="none" stroke-linecap="round" stroke-linejoin="round"/>
<path d="M514.0,235.0 517.0,234.8 520.0,234.6 523.0,234.4 526.0,234.3 529.0,234.1 532.0,233.9 535.0,233.7 538.0,233.6 541.0,233.5 544.0,233.4 547.0,233.3 550.0,233.2 553.0,233.2 556.0,233.1 559.0,233.1 562.0,233.1 565.0,233.1 568.0,233.1 571.0,233.1 574.0,233.1 577.0,233.1 580.0,233.1 583.0,233.1 586.0,233.1 589.0,233.1 592.0,233.2 595.0,233.2 598.0,233.2 601.0,233.3 604.0,233.3 607.0,233.4 610.0,233.4 612.9,233.5 615.9,233.5 618.9,233.6 621.9,233.6 624.9,233.7 627.9,233.8 630.9,233.9 633.9,233.9 636.9,234.0 639.9,234.1 642.9,234.2 645.9,234.3 648.9,234.4 651.9,234.5 654.9,234.6 657.9,234.7 660.9,234.8 663.9,234.9 666.9,235.1 669.9,235.2 672.9,235.3 675.9,235.4 678.9,235.6 681.9,235.7 684.9,235.9 687.9,236.0 690.9,236.2 693.9,236.4 696.9,236.5 699.9,236.7 702.9,236.9 705.9,237.1 708.9,237.3 711.9,237.5 714.8,237.8 717.8,238.0 720.8,238.2 723.8,238.5 726.8,238.7 729.8,239.0 732.8,239.2 735.8,239.5 738.8,239.8 741.7,240.1 744.7,240.4 747.7,240.8 750.7,241.1 753.7,241.5 756.6,241.8 759.6,242.2 762.6,242.6 765.6,243.0 768.5,243.4 771.5,243.9 774.4,244.5 777.4,245.1 780.3,245.8 783.2,246.5 786.1,247.3 789.0,248.1 791.8,249.0 794.6,250.0 797.4,251.1 800.2,252.2 802.9,253.5 805.6,254.8 808.2,256.3 810.7,257.9 813.2,259.5 815.6,261.3 818.0,263.1 820.3,265.0 822.6,267.0 824.7,269.0 826.8,271.2 828.8,273.4 830.7,275.7 832.5,278.1 834.1,280.5 835.6,283.1 837.0,285.8 838.3,288.5 839.4,291.2 840.6,294.0 841.8,296.7 842.9,299.5 844.1,302.3 845.3,305.0 846.5,307.8 847.7,310.5 848.9,313.3 850.0,316.0 851.1,318.8 852.2,321.6 853.2,324.4 854.2,327.3 855.2,330.1 856.2,332.9 857.2,335.8 858.2,338.6 859.2,341.4 860.2,344.2 861.3,347.1 862.3,349.9 863.3,352.7 864.4,355.5 865.4,358.3 866.5,361.1 867.6,363.9 868.7,366.7 869.9,369.5 870.9,372.3 872.0,375.1 872.9,377.9 873.9,380.8 874.7,383.6 875.5,386.5 876.2,389.4 876.9,392.3 877.6,395.3 878.3,398.2 878.9,401.1 879.6,404.0 880.2,407.0 880.9,409.9 881.5,412.8 882.2,415.8 882.9,418.7 883.5,421.6 884.2,424.5 884.9,427.4 885.6,430.4 886.3,433.3 887.0,436.2 887.7,439.1 888.4,442.0 889.1,444.9 889.9,447.9 890.6,450.8 891.4,453.6 892.3,456.5 893.1,459.4 894.0,462.3 894.8,465.2 895.7,468.0 896.6,470.9 897.5,473.7 898.4,476.6 899.3,479.5 900.3,482.3 901.2,485.2 902.1,488.0 903.0,490.9 904.0,493.7 904.9,496.6 905.8,499.4 906.8,502.3 907.7,505.1 908.6,508.0 909.6,510.8 910.5,513.7 911.4,516.6 912.3,519.4 913.1,522.3 914.0,525.2 914.9,528.0 915.7,530.9 916.6,533.8 917.4,536.7 918.3,539.5 919.1,542.4 920.0,545.3 920.9,548.2 921.8,551.0 922.7,553.9 923.6,556.7 924.6,559.6 925.5,562.4 926.5,565.3 927.4,568.1 928.4,570.9 929.4,573.8 930.4,576.6 931.5,579.4 932.5,582.2 933.6,585.0 934.7,587.8 935.8,590.6 936.9,593.4 938.1,596.1 939.3,598.9 940.5,601.6 941.7,604.4 942.9,607.1 944.2,609.9 945.4,612.6 946.7,615.3 948.0,618.0 949.2,620.7 950.5,623.4 951.8,626.2 953.1,628.9 954.3,631.6 955.6,634.3 956.9,637.0 958.3,639.7 959.6,642.4 961.0,645.0 962.4,647.7 963.9,650.3 965.4,652.9 967.0,655.4 968.5,658.0 970.2,660.5 971.9,663.0 973.6,665.4 975.3,667.9 977.0,670.3 978.8,672.7 980.6,675.2 982.4,677.6 984.2,679.9 986.0,682.3 987.9,684.7 989.8,687.0 991.6,689.4 993.5,691.7 995.4,694.0 997.4,696.3 999.3,698.6 1001.3,700.8 1003.3,703.0 1005.4,705.2 1007.4,707.4 1009.5,709.6 1011.6,711.7 1013.8,713.8 1015.9,715.9 1018.1,717.9 1020.3,720.0 1022.5,722.0 1024.7,724.1 1026.9,726.1 1029.2,728.1 1031.4,730.1 1033.6,732.1 1035.8,734.1 1038.0,736.2 1040.2,738.2 1042.4,740.2 1044.7,742.3 1046.9,744.3 1049.1,746.3 1051.4,748.2 1053.7,750.1 1056.1,751.9 1058.5,753.7 1061.0,755.4 1063.5,757.0 1066.0,758.6 1068.6,760.1 1071.3,761.5 1073.9,762.9 1076.6,764.3 1079.3,765.6 1082.0,766.9 1084.7,768.1 1087.4,769.4 1090.2,770.6 1092.9,771.8 1095.7,773.0 1098.5,774.1 1101.2,775.3 1104.0,776.4 1106.8,777.5 1109.6,778.6 1112.4,779.7 1115.2,780.7 1118.0,781.7 1120.9,782.7 1123.7,783.7 1126.5,784.7 1129.3,785.7 1132.2,786.7 1135.0,787.7 1137.8,788.7 1140.7,789.7 1143.5,790.7 1146.3,791.7 1149.2,792.6 1152.0,793.6 1154.9,794.5 1157.7,795.4 1160.6,796.3 1163.5,797.1 1166.4,797.9 1169.3,798.7 1172.2,799.4 1175.1,800.1 1178.0,800.7 1181.0,801.3 1183.9,801.9 1186.9,802.4 1189.8,803.0 1192.8,803.4 1195.7,803.9 1198.7,804.2 1201.7,804.6 1204.7,804.9 1207.7,805.1 1210.7,805.2 1213.7,805.3 1216.6,805.3 1219.6,805.2 1222.6,804.9 1225.6,804.6 1228.5,804.1 1231.4,803.5 1234.3,802.7 1237.1,801.8 1239.8,800.7 1242.5,799.3 1245.0,797.8 1247.4,796.0 1249.7,794.1 1251.8,792.1 1253.9,790.0 1255.9,787.8 1257.9,785.5 1259.7,783.1 1261.5,780.7 1263.3,778.3 1264.9,775.8 1266.5,773.3 1268.1,770.7 1269.5,768.1 1271.0,765.5 1272.4,762.8 1273.7,760.1 1275.0,757.5 1276.4,754.8 1277.7,752.1 1279.1,749.4 1280.4,746.7 1281.8,744.1 1283.1,741.4 1284.5,738.7 1285.8,736.0 1287.1,733.3 1288.3,730.6 1289.5,727.8 1290.6,725.0 1291.7,722.2 1292.8,719.4 1293.8,716.6 1294.9,713.8 1295.9,711.0 1296.8,708.1 1297.8,705.3 1298.8,702.5 1299.7,699.6 1300.6,696.7 1301.5,693.9 1302.4,691.0 1303.2,688.1 1304.0,685.2 1304.8,682.4 1305.7,679.5 1306.5,676.6 1307.3,673.7 1308.2,670.8 1309.1,668.0 1310.0,665.1 1311.0,662.3 1312.1,659.5 1313.2,656.7 1314.3,653.9 1315.5,651.2 1316.7,648.4 1317.9,645.7 1319.2,643.0 1320.5,640.3 1321.7,637.5 1323.0,634.8 1324.3,632.1 1325.5,629.4 1326.7,626.6 1328.0,623.9 1329.1,621.1 1330.3,618.4 1331.5,615.6 1332.6,612.8 1333.7,610.1 1334.9,607.3 1336.0,604.5 1337.2,601.7 1338.3,599.0 1339.6,596.2 1340.8,593.5 1342.1,590.8 1343.4,588.1 1344.8,585.4 1346.2,582.8 1347.7,580.2 1349.2,577.7 1350.9,575.2 1352.7,572.8 1354.6,570.6 1356.7,568.4 1358.9,566.4 1361.1,564.4 1363.3,562.5 1365.5,560.5 1367.7,558.4 1369.7,556.2 1371.5,553.9 1373.3,551.5 1374.9,549.0 1376.4,546.4 1378.0,543.8 1379.5,541.3 1381.1,538.7 1382.8,536.3 1384.5,533.9 1386.4,531.5 1388.4,529.3 1390.4,527.1 1392.6,525.1 1394.8,523.1 1397.1,521.2 1399.5,519.4 1402.0,517.7 1404.5,516.1 1407.1,514.6 1409.7,513.2 1412.4,512.0 1415.2,510.9 1418.0,509.9 1420.9,509.1 1423.8,508.5 1426.7,508.1 1429.7,507.8 1432.7,507.6 1435.7,507.6 1438.6,507.7 1441.6,507.9 1444.6,508.1 1447.6,508.4 1450.6,508.7 1453.6,509.0 1456.6,509.3 1459.5,509.6 1462.5,509.9 1465.5,510.2 1468.5,510.6 1471.5,510.9 1474.5,511.2 1477.4,511.6 1480.4,512.0 1483.4,512.4 1486.4,512.8 1489.3,513.2 1492.3,513.6 1495.3,514.0 1498.2,514.4 1501.2,514.9 1504.2,515.3 1507.1,515.7 1510.1,516.2 1513.1,516.6 1516.0,517.1 1519.0,517.6 1522.0,518.0 1524.9,518.5 1527.9,519.0 1530.9,519.5 1533.8,519.9 1536.8,520.4 1539.7,520.9 1542.7,521.5 1545.6,522.0 1548.6,522.5 1551.6,523.0 1554.5,523.5 1557.5,524.0 1560.4,524.5 1563.4,525.0 1566.3,525.5 1569.3,526.0 1572.3,526.5 1575.2,527.0 1578.2,527.5 1581.1,527.9 1584.1,528.4 1587.1,528.9 1590.0,529.4 1593.0,529.9 1596.0,530.3 1598.9,530.8 1601.9,531.3 1604.8,531.8 1607.8,532.3 1610.8,532.8 1613.7,533.3 1616.7,533.8 1619.6,534.3 1622.6,534.9 1625.5,535.4 1628.5,536.0 1631.4,536.5 1634.4,537.1 1637.3,537.7 1640.2,538.3 1643.2,538.9 1646.1,539.4 1649.1,540.0 1652.0,540.7 1654.9,541.3 1657.9,541.9 1660.8,542.5 1663.8,543.1 1666.7,543.7 1669.6,544.3 1672.6,544.8 1675.5,545.4 1678.5,546.0 1681.4,546.5 1684.4,547.0 1687.3,547.6 1690.3,548.1 1693.2,548.7 1696.2,549.3 1699.1,549.9 1702.0,550.6 1704.9,551.3 1707.8,552.1 1710.7,552.9 1713.6,553.7 1716.5,554.5 1719.4,555.4 1722.2,556.2 1725.1,557.1 1728.0,558.1 1730.8,559.0 1733.6,560.0 1736.5,561.0 1739.3,562.0 1742.1,563.1 1744.9,564.2 1747.7,565.3 1750.4,566.4 1753.2,567.6 1756.0,568.7 1758.7,569.9 1761.5,571.2 1764.2,572.4 1766.9,573.7 1769.6,575.1 1772.2,576.4 1774.9,577.8 1777.5,579.3 1780.1,580.8 1782.6,582.4 1785.1,584.0 1787.6,585.7 1790.1,587.4 1792.5,589.2 1794.9,591.0 1797.2,592.9 1799.5,594.8 1801.8,596.8 1804.0,598.8 1806.1,600.9 1808.2,603.1 1810.2,605.3 1812.1,607.6 1813.9,609.9 1815.7,612.4 1817.4,614.8 1819.0,617.3 1820.7,619.9 1822.2,622.4 1823.8,625.0 1825.3,627.6 1826.8,630.2 1828.2,632.8 1829.7,635.4 1831.1,638.1 1832.5,640.7 1834.0,643.3 1835.5,645.9 1836.9,648.5 1838.5,651.1 1840.0,653.7 1841.5,656.3 1843.0,658.9 1844.6,661.5 1846.1,664.1 1847.5,666.7 1849.0,669.3 1850.4,671.9 1851.8,674.6 1853.2,677.3 1854.5,679.9 1855.9,682.6 1857.2,685.3 1858.5,688.0 1859.9,690.7 1861.2,693.4 1862.6,696.0 1864.0,698.7 1865.5,701.3 1866.9,703.9 1868.4,706.5 1869.9,709.1 1871.4,711.8 1872.8,714.4 1874.4,716.9 1875.9,719.5 1877.4,722.1 1878.9,724.7 1880.4,727.3 1881.9,729.9 1883.4,732.5 1884.9,735.1 1886.3,737.8 1887.6,740.4 1888.8,743.2 1890.0,745.9 1891.2,748.7 1892.2,751.5 1893.3,754.3 1894.3,757.1 1895.3,760.0 1896.2,762.8 1897.2,765.6 1898.1,768.5 1899.0,771.3 1900.0,774.2 1900.9,777.1 1901.8,779.9 1902.6,782.8 1903.5,785.7 1904.3,788.6 1905.2,791.4 1906.0,794.3 1906.8,797.2 1907.5,800.1 1908.3,803.0 1909.1,805.9 1909.9,808.8 1910.7,811.7 1911.5,814.6 1912.3,817.5 1913.1,820.4 1914.0,823.2 1914.8,826.1 1915.7,829.0 1916.6,831.9 1917.4,834.7 1918.3,837.6" stroke="#00FF00" stroke-width="10" fill="none" stroke-linecap="round" stroke-linejoin="round"/>
<path d="M529.0,251.0 532.0,250.8 535.0,250.5 538.0,250.3 541.0,250.0 544.0,249.8 546.9,249.5 549.9,249.3 552.9,249.2 555.9,249.0 558.9,248.9 561.9,248.8 564.9,248.7 567.9,248.7 570.9,248.7 573.9,248.7 576.9,248.7 579.9,248.8 582.9,248.8 585.9,248.9 588.9,249.0 591.9,249.1 594.9,249.2 597.9,249.3 600.9,249.5 603.9,249.6 606.9,249.8 609.9,249.9 612.9,250.1 615.9,250.3 618.9,250.5 621.9,250.7 624.9,251.0 627.9,251.2 630.8,251.5 633.8,251.8 636.8,252.0 639.8,252.4 642.8,252.7 645.8,253.0 648.7,253.4 651.7,253.8 654.7,254.3 657.7,254.7 660.6,255.2 663.6,255.7 666.5,256.2 669.5,256.8 672.4,257.3 675.4,257.9 678.3,258.5 681.2,259.1 684.2,259.8 687.1,260.5 690.0,261.3 692.9,262.1 695.7,263.0 698.6,263.8 701.5,264.7 704.4,265.5 707.2,266.3 710.1,267.2 713.0,268.1 715.8,269.1 718.6,270.2 721.3,271.4 724.0,272.7 726.7,274.1 729.3,275.5 731.9,277.1 734.4,278.7 737.0,280.3 739.5,281.9 741.9,283.6 744.4,285.4 746.8,287.1 749.2,288.9 751.5,290.8 753.8,292.7 756.1,294.8 758.2,296.9 760.2,299.1 762.2,301.3 764.0,303.7 765.8,306.1 767.5,308.6 769.1,311.1 770.7,313.6 772.3,316.2 773.9,318.7 775.4,321.3 776.9,323.9 778.4,326.5 779.8,329.2 781.2,331.8 782.5,334.5 783.8,337.2 785.0,340.0 786.2,342.7 787.4,345.5 788.5,348.3 789.6,351.0 790.8,353.8 792.0,356.6 793.2,359.3 794.5,362.0 795.7,364.8 796.9,367.5 798.2,370.2 799.3,373.0 800.5,375.8 801.6,378.5 802.8,381.3 803.9,384.1 805.0,386.9 806.1,389.7 807.1,392.5 808.2,395.3 809.3,398.1 810.4,400.9 811.5,403.7 812.6,406.5 813.7,409.3 814.7,412.1 815.7,414.9 816.7,417.8 817.6,420.6 818.5,423.5 819.4,426.3 820.2,429.2 821.1,432.1 822.0,435.0 822.8,437.8 823.7,440.7 824.6,443.6 825.5,446.4 826.4,449.3 827.3,452.2 828.2,455.0 829.1,457.9 830.1,460.7 831.0,463.6 831.9,466.4 832.8,469.3 833.8,472.1 834.7,475.0 835.6,477.8 836.5,480.7 837.5,483.6 838.4,486.4 839.3,489.3 840.3,492.1 841.2,495.0 842.1,497.8 843.0,500.7 843.9,503.5 844.9,506.4 845.8,509.2 846.7,512.1 847.6,515.0 848.5,517.8 849.4,520.7 850.3,523.6 851.2,526.4 852.0,529.3 852.9,532.2 853.8,535.0 854.7,537.9 855.5,540.8 856.4,543.6 857.3,546.5 858.2,549.4 859.2,552.2 860.1,555.1 861.0,557.9 861.9,560.8 862.9,563.6 863.8,566.5 864.8,569.3 865.8,572.2 866.7,575.0 867.7,577.8 868.7,580.7 869.7,583.5 870.7,586.3 871.7,589.1 872.7,592.0 873.8,594.8 874.9,597.6 875.9,600.4 877.0,603.2 878.1,606.0 879.2,608.8 880.3,611.6 881.4,614.4 882.4,617.2 883.5,620.0 884.6,622.8 885.7,625.6 886.8,628.4 887.9,631.1 889.0,633.9 890.2,636.7 891.4,639.4 892.6,642.2 893.8,644.9 895.0,647.7 896.3,650.4 897.5,653.1 898.8,655.8 900.0,658.6 901.2,661.3 902.5,664.1 903.8,666.8 905.1,669.4 906.5,672.1 908.0,674.7 909.6,677.2 911.2,679.7 912.9,682.2 914.7,684.7 916.4,687.1 918.3,689.5 920.1,691.8 922.0,694.1 924.0,696.4 926.0,698.7 928.0,700.9 930.0,703.1 932.1,705.3 934.1,707.5 936.1,709.7 938.1,711.9 940.1,714.2 942.1,716.4 944.1,718.6 946.2,720.8 948.2,723.0 950.2,725.2 952.3,727.4 954.4,729.6 956.4,731.8 958.5,734.0 960.6,736.1 962.7,738.2 964.9,740.3 967.2,742.2 969.6,744.0 972.0,745.8 974.5,747.4 977.1,749.0 979.7,750.5 982.3,751.9 985.0,753.3 987.6,754.6 990.3,756.0 993.0,757.3 995.7,758.6 998.4,759.9 1001.2,761.1 1003.9,762.4 1006.6,763.7 1009.3,765.0 1012.0,766.2 1014.8,767.5 1017.5,768.7 1020.2,770.0 1023.0,771.2 1025.7,772.4 1028.5,773.5 1031.3,774.7 1034.0,775.8 1036.8,776.8 1039.7,777.9 1042.5,778.9 1045.3,779.9 1048.2,780.8 1051.0,781.7 1053.9,782.6 1056.8,783.4 1059.7,784.2 1062.6,784.8 1065.5,785.4 1068.5,785.9 1071.5,786.2 1074.5,786.4 1077.5,786.4 1080.5,786.3 1083.4,785.9 1086.3,785.3 1089.2,784.5 1092.0,783.5 1094.8,782.3 1097.4,780.9 1100.0,779.4 1102.5,777.7 1104.8,775.9 1107.1,774.0 1109.3,771.9 1111.4,769.8 1113.4,767.5 1115.3,765.2 1117.1,762.8 1118.9,760.4 1120.6,758.0 1122.3,755.5 1123.9,752.9 1125.4,750.3 1126.9,747.7 1128.2,745.1 1129.6,742.4 1130.9,739.7 1132.1,737.0 1133.3,734.2 1134.5,731.5 1135.7,728.7 1136.9,725.9 1138.1,723.2 1139.3,720.4 1140.5,717.7 1141.7,714.9 1142.9,712.2 1144.2,709.5 1145.4,706.7 1146.6,704.0 1147.8,701.2 1149.0,698.5 1150.2,695.7 1151.4,693.0 1152.6,690.2 1153.8,687.5 1155.0,684.7 1156.2,682.0 1157.4,679.2 1158.6,676.5 1159.8,673.7 1161.0,671.0 1162.2,668.2 1163.3,665.5 1164.5,662.7 1165.7,660.0 1166.9,657.2 1168.2,654.5 1169.4,651.8 1170.7,649.0 1172.0,646.4 1173.4,643.7 1174.8,641.0 1176.3,638.4 1177.7,635.8 1179.3,633.2 1180.8,630.6 1182.4,628.1 1183.9,625.5 1185.5,623.0 1187.1,620.4 1188.7,617.9 1190.3,615.3 1191.8,612.8 1193.4,610.2 1194.9,607.6 1196.4,605.0 1197.9,602.4 1199.4,599.8 1200.9,597.2 1202.4,594.6 1203.8,592.0 1205.3,589.3 1206.7,586.7 1208.2,584.1 1209.6,581.5 1211.0,578.8 1212.4,576.2 1213.8,573.5 1215.2,570.8 1216.5,568.2 1217.9,565.5 1219.1,562.7 1220.4,560.0 1221.7,557.3 1222.9,554.6 1224.1,551.8 1225.4,549.1 1226.6,546.4 1227.9,543.7 1229.2,541.0 1230.5,538.3 1231.9,535.6 1233.4,533.0 1234.8,530.3 1236.3,527.7 1237.9,525.2 1239.6,522.7 1241.4,520.4 1243.5,518.3 1245.7,516.3 1248.1,514.5 1250.7,513.0 1253.3,511.6 1256.1,510.4 1258.9,509.4 1261.8,508.6 1264.7,507.9 1267.6,507.3 1270.6,506.8 1273.5,506.4 1276.5,506.2 1279.5,505.9 1282.5,505.8 1285.5,505.6 1288.5,505.5 1291.5,505.5 1294.5,505.4 1297.5,505.4 1300.5,505.5 1303.5,505.6 1306.5,505.7 1309.5,505.9 1312.5,506.0 1315.5,506.3 1318.5,506.5 1321.5,506.8 1324.5,507.0 1327.4,507.3 1330.4,507.6 1333.4,507.9 1336.4,508.2 1339.4,508.5 1342.4,508.8 1345.4,509.1 1348.3,509.5 1351.3,509.8 1354.3,510.1 1357.3,510.4 1360.3,510.6 1363.3,510.9 1366.3,511.2 1369.2,511.4 1372.2,511.6 1375.2,511.9 1378.2,512.1 1381.2,512.2 1384.2,512.4 1387.2,512.6 1390.2,512.8 1393.2,512.9 1396.2,513.1 1399.2,513.3 1402.2,513.4 1405.2,513.6 1408.2,513.8 1411.2,514.0 1414.2,514.2 1417.2,514.5 1420.1,514.7 1423.1,515.0 1426.1,515.3 1429.1,515.6 1432.1,516.0 1435.1,516.3 1438.0,516.7 1441.0,517.1 1444.0,517.5 1447.0,517.9 1449.9,518.3 1452.9,518.7 1455.9,519.2 1458.8,519.6 1461.8,520.0 1464.8,520.5 1467.7,520.9 1470.7,521.3 1473.7,521.7 1476.7,522.1 1479.6,522.5 1482.6,522.9 1485.6,523.3 1488.6,523.7 1491.5,524.1 1494.5,524.5 1497.5,524.9 1500.5,525.3 1503.4,525.7 1506.4,526.1 1509.4,526.5 1512.4,526.9 1515.3,527.3 1518.3,527.7 1521.3,528.0 1524.3,528.4 1527.2,528.8 1530.2,529.2 1533.2,529.6 1536.2,530.0 1539.1,530.4 1542.1,530.7 1545.1,531.1 1548.1,531.4 1551.0,531.8 1554.0,532.1 1557.0,532.5 1560.0,532.8 1563.0,533.2 1565.9,533.6 1568.9,534.0 1571.9,534.4 1574.9,534.8 1577.8,535.2 1580.8,535.7 1583.7,536.2 1586.7,536.7 1589.7,537.3 1592.6,537.8 1595.5,538.4 1598.5,539.0 1601.4,539.6 1604.3,540.3 1607.3,540.9 1610.2,541.6 1613.1,542.3 1616.0,543.0 1619.0,543.7 1621.9,544.4 1624.8,545.1 1627.7,545.9 1630.6,546.6 1633.5,547.4 1636.4,548.1 1639.3,548.9 1642.2,549.7 1645.1,550.4 1648.0,551.2 1650.9,552.0 1653.8,552.8 1656.7,553.6 1659.6,554.4 1662.5,555.2 1665.3,556.1 1668.2,557.0 1671.0,557.9 1673.9,558.9 1676.7,560.0 1679.4,561.1 1682.2,562.3 1684.9,563.6 1687.6,564.9 1690.3,566.2 1692.9,567.7 1695.5,569.2 1698.0,570.8 1700.5,572.5 1702.9,574.3 1705.3,576.2 1707.5,578.1 1709.7,580.2 1711.8,582.3 1713.8,584.6 1715.7,586.9 1717.5,589.2 1719.3,591.7 1720.9,594.2 1722.3,596.8 1723.6,599.5 1724.7,602.3 1725.8,605.0 1727.1,607.6 1728.9,610.0 1730.9,612.1 1733.2,614.0 1735.6,615.8 1738.0,617.6 1740.5,619.3 1742.9,621.1 1745.3,622.8 1747.8,624.6 1750.3,626.3 1752.7,628.0 1755.1,629.8 1757.5,631.6 1759.8,633.5 1762.1,635.5 1764.2,637.6 1766.4,639.7 1768.4,641.9 1770.4,644.1 1772.3,646.4 1774.1,648.8 1775.9,651.2 1777.6,653.7 1779.2,656.2 1780.8,658.7 1782.3,661.3 1783.8,664.0 1785.2,666.6 1786.6,669.3 1787.8,672.0 1789.0,674.7 1790.2,677.5 1791.3,680.3 1792.3,683.1 1793.4,685.9 1794.6,688.7 1795.8,691.4 1797.1,694.1 1798.4,696.8 1799.6,699.5 1800.7,702.3 1801.7,705.1 1802.7,708.0 1803.5,710.9 1804.4,713.7 1805.2,716.6 1806.0,719.5 1806.8,722.4 1807.6,725.3 1808.4,728.2 1809.2,731.1 1810.0,734.0 1810.8,736.9 1811.6,739.8 1812.4,742.6 1813.2,745.5 1814.0,748.4 1814.8,751.3 1815.5,754.2 1816.2,757.2 1816.9,760.1 1817.6,763.0 1818.2,765.9 1818.8,768.9 1819.4,771.8 1819.9,774.8 1820.5,777.7 1821.1,780.7 1821.6,783.6 1822.2,786.6 1822.9,789.5 1823.6,792.4 1824.3,795.0 1825.3,796.8 1826.5,797.2 1827.8,796.3 1829.2,794.9 1830.9,794.3 1832.6,795.2 1834.1,797.2 1835.5,799.7 1836.6,802.5 1837.6,805.3 1838.4,808.2 1839.2,811.1 1839.8,814.0 1840.4,816.9 1841.1,819.9 1841.7,822.8 1842.3,825.7 1842.9,828.7 1843.5,831.6 1844.1,834.5 1844.7,837.5 1845.3,840.4 1845.9,843.4 1846.4,846.3 1847.0,849.3 1847.6,852.2 1848.2,855.1 1848.8,858.1 1849.3,861.0 1849.9,864.0 1850.5,866.9 1851.1,869.9 1851.7,872.8 1852.2,875.8 1852.8,878.7 1853.4,881.6 1854.0,884.6 1854.6,887.5 1855.2,890.5 1855.8,893.4 1856.4,896.3 1857.0,899.3 1857.5,902.2 1858.1,905.2 1858.7,908.1 1859.3,911.1 1859.9,914.0 1860.5,916.9 1861.1,919.9 1861.7,922.8 1862.3,925.8 1862.9,928.7 1863.5,931.6 1864.1,934.6 1864.6,937.5 1865.2,940.5 1865.8,943.4 1866.4,946.3 1867.1,949.3 1867.7,952.2 1868.3,955.2 1868.9,958.1 1869.5,961.0 1870.1,964.0 1870.7,966.9 1871.2,969.9 1871.6,972.8 1871.9,975.8 1872.2,978.8 1872.4,981.8 1872.5,984.8 1872.6,987.8 1872.7,989.3" stroke="#FF00FF" stroke-width="10" fill="none" stroke-linecap="round" stroke-linejoin="round"/>
<path d="M525.5,278.0 528.5,278.3 531.5,278.6 534.5,278.9 537.4,279.2 540.4,279.5 543.4,279.8 546.4,280.1 549.4,280.4 552.4,280.7 555.4,280.9 558.4,281.2 561.3,281.5 564.3,281.7 567.3,281.9 570.3,282.1 573.3,282.3 576.3,282.5 579.3,282.7 582.3,282.9 585.3,283.0 588.3,283.2 591.3,283.4 594.3,283.6 597.3,283.8 600.3,284.0 603.3,284.3 606.3,284.5 609.2,284.8 612.2,285.1 615.2,285.5 618.2,285.8 621.2,286.2 624.1,286.6 627.1,287.1 630.1,287.5 633.0,288.0 636.0,288.5 638.9,289.1 641.9,289.6 644.8,290.2 647.8,290.8 650.7,291.4 653.7,292.0 656.6,292.6 659.5,293.2 662.5,293.8 665.4,294.5 668.3,295.2 671.2,295.9 674.2,296.6 677.1,297.4 679.9,298.2 682.8,299.0 685.7,299.9 688.5,300.9 691.4,301.9 694.2,302.9 697.0,304.0 699.8,305.1 702.5,306.3 705.3,307.5 708.0,308.8 710.6,310.2 713.3,311.6 715.8,313.2 718.3,314.9 720.7,316.7 723.0,318.5 725.3,320.4 727.7,322.4 729.9,324.3 732.2,326.3 734.4,328.3 736.5,330.5 738.5,332.7 740.5,334.9 742.4,337.3 744.2,339.6 746.0,342.1 747.8,344.5 749.5,346.9 751.2,349.4 752.8,352.0 754.3,354.5 755.8,357.1 757.2,359.8 758.6,362.5 759.8,365.2 761.1,367.9 762.3,370.7 763.4,373.4 764.5,376.2 765.6,379.0 766.7,381.8 767.7,384.6 768.7,387.5 769.7,390.3 770.6,393.2 771.5,396.0 772.4,398.9 773.2,401.8 774.0,404.7 774.8,407.6 775.6,410.5 776.4,413.3 777.3,416.2 778.1,419.1 778.9,422.0 779.7,424.9 780.5,427.8 781.3,430.7 782.1,433.6 782.8,436.5 783.6,439.4 784.3,442.3 785.0,445.2 785.6,448.2 786.3,451.1 786.9,454.0 787.5,457.0 788.0,459.9 788.6,462.9 789.1,465.8 789.7,468.8 790.3,471.7 790.8,474.7 791.4,477.6 792.0,480.5 792.6,483.5 793.2,486.4 793.8,489.4 794.4,492.3 795.1,495.2 795.7,498.2 796.3,501.1 796.9,504.1 797.5,507.0 798.1,509.9 798.7,512.9 799.3,515.8 799.9,518.8 800.5,521.7 801.1,524.6 801.7,527.6 802.3,530.5 802.9,533.5 803.5,536.4 804.0,539.4 804.6,542.3 805.2,545.2 805.8,548.2 806.4,551.1 807.0,554.1 807.6,557.0 808.2,559.9 808.8,562.9 809.4,565.8 810.0,568.8 810.6,571.7 811.2,574.6 811.9,577.6 812.5,580.5 813.2,583.4 813.9,586.3 814.7,589.2 815.5,592.1 816.2,595.0 817.0,597.9 817.8,600.8 818.7,603.7 819.5,606.6 820.4,609.5 821.3,612.3 822.3,615.1 823.4,618.0 824.5,620.7 825.7,623.5 826.9,626.2 828.2,628.9 829.6,631.6 831.0,634.2 832.5,636.9 834.0,639.4 835.5,642.0 837.1,644.6 838.7,647.1 840.4,649.6 842.0,652.1 843.7,654.6 845.3,657.1 847.0,659.6 848.7,662.1 850.4,664.6 852.1,667.0 853.9,669.4 855.7,671.8 857.5,674.2 859.3,676.6 861.1,679.0 863.0,681.4 864.8,683.8 866.6,686.2 868.5,688.5 870.3,690.9 872.1,693.3 873.9,695.7 875.7,698.1 877.4,700.5 879.2,703.0 881.0,705.4 882.7,707.9 884.4,710.3 886.2,712.8 887.9,715.2 889.6,717.7 891.4,720.1 893.1,722.5 894.9,724.9 896.7,727.4 898.5,729.8 900.3,732.1 902.2,734.5 904.1,736.8 905.9,739.2 907.9,741.5 909.8,743.8 911.8,746.0 913.8,748.2 916.0,750.3 918.1,752.4 920.4,754.4 922.7,756.3 925.0,758.2 927.4,760.0 929.9,761.6 932.5,762.8 935.3,763.3 938.1,763.2 940.8,762.3 943.3,760.8 945.6,759.0 947.8,757.0 949.8,754.8 951.7,752.4 953.4,750.0 955.0,747.5 956.4,744.8 957.6,742.1 958.9,739.3 960.1,736.6 961.4,733.9 962.7,731.2 964.0,728.5 965.4,725.8 966.7,723.1 968.0,720.4 969.3,717.7 970.6,715.0 971.9,712.3 973.1,709.6 974.3,706.8 975.5,704.1 976.8,701.4 978.1,698.7 979.4,696.0 980.8,693.3 982.2,690.6 983.6,688.0 984.9,685.3 986.3,682.7 987.7,680.0 989.1,677.3 990.6,674.7 991.9,672.0 993.3,669.4 994.6,666.7 995.9,663.9 997.0,661.2 998.1,658.4 999.2,655.6 1000.2,652.7 1001.1,649.9 1002.1,647.1 1003.1,644.2 1004.1,641.4 1005.0,638.5 1006.0,635.7 1006.9,632.8 1007.9,630.0 1009.0,627.2 1010.1,624.4 1011.2,621.6 1012.3,618.9 1013.5,616.1 1014.8,613.4 1016.1,610.7 1017.5,608.0 1018.9,605.4 1020.4,602.8 1022.0,600.3 1023.7,597.7 1025.3,595.2 1027.0,592.7 1028.7,590.3 1030.3,587.8 1032.0,585.3 1033.6,582.7 1035.2,580.2 1036.9,577.7 1038.7,575.3 1040.5,572.9 1042.4,570.6 1044.5,568.4 1046.6,566.3 1048.8,564.3 1051.1,562.3 1053.4,560.5 1055.9,558.8 1058.5,557.3 1061.1,555.9 1063.9,554.8 1066.7,553.8 1069.6,552.9 1072.5,552.2 1075.4,551.6 1078.4,551.1 1081.3,550.6 1084.3,550.2 1087.3,549.8 1090.3,549.4 1093.2,549.0 1096.2,548.7 1099.2,548.4 1102.2,548.2 1105.2,548.0 1108.2,547.8 1111.2,547.6 1114.2,547.5 1117.2,547.4 1120.2,547.3 1123.2,547.2 1126.2,547.1 1129.2,547.1 1132.2,547.0 1135.2,547.0 1138.2,547.0 1141.2,547.0 1144.2,547.0 1147.2,547.1 1150.2,547.2 1153.2,547.3 1156.2,547.4 1159.2,547.5 1162.2,547.6 1165.2,547.7 1168.2,547.8 1171.2,548.0 1174.2,548.1 1177.2,548.3 1180.2,548.4 1183.2,548.6 1186.2,548.7 1189.2,548.9 1192.2,549.1 1195.2,549.2 1198.2,549.4 1201.2,549.6 1204.2,549.8 1207.1,550.0 1210.1,550.2 1213.1,550.4 1216.1,550.6 1219.1,550.8 1222.1,551.0 1225.1,551.2 1228.1,551.5 1231.1,551.7 1234.1,551.9 1237.1,552.1 1240.1,552.3 1243.1,552.5 1246.1,552.7 1249.1,552.9 1252.1,553.0 1255.1,553.2 1258.1,553.4 1261.1,553.5 1264.1,553.7 1267.0,553.9 1270.0,554.0 1273.0,554.2 1276.0,554.4 1279.0,554.6 1282.0,554.8 1285.0,555.0 1288.0,555.3 1291.0,555.5 1294.0,555.8 1297.0,556.1 1300.0,556.4 1302.9,556.8 1305.9,557.1 1308.9,557.4 1311.9,557.8 1314.9,558.2 1317.8,558.6 1320.8,559.0 1323.8,559.4 1326.8,559.8 1329.7,560.2 1332.7,560.6 1335.7,561.0 1338.7,561.4 1341.6,561.8 1344.6,562.3 1347.6,562.7 1350.5,563.1 1353.5,563.5 1356.5,563.9 1359.5,564.4 1362.4,564.8 1365.4,565.2 1368.4,565.6 1371.3,566.0 1374.3,566.4 1377.3,566.8 1380.3,567.2 1383.2,567.6 1386.2,567.9 1389.2,568.3 1392.2,568.7 1395.2,569.1 1398.1,569.5 1401.1,569.9 1404.1,570.3 1407.1,570.7 1410.0,571.1 1413.0,571.5 1416.0,571.9 1419.0,572.3 1421.9,572.7 1424.9,573.1 1427.9,573.5 1430.9,573.9 1433.8,574.3 1436.8,574.6 1439.8,575.0 1442.8,575.4 1445.7,575.8 1448.7,576.2 1451.7,576.6 1454.7,577.0 1457.6,577.4 1460.6,577.8 1463.6,578.2 1466.6,578.6 1469.5,579.0 1472.5,579.4 1475.5,579.8 1478.4,580.3 1481.4,580.7 1484.4,581.2 1487.3,581.6 1490.3,582.1 1493.3,582.6 1496.2,583.0 1499.2,583.5 1502.2,584.0 1505.1,584.5 1508.1,585.0 1511.0,585.5 1514.0,586.0 1517.0,586.5 1519.9,587.0 1522.9,587.5 1525.8,588.0 1528.8,588.5 1531.7,589.1 1534.7,589.6 1537.6,590.2 1540.6,590.7 1543.5,591.2 1546.5,591.8 1549.4,592.4 1552.4,592.9 1555.3,593.5 1558.3,594.0 1561.2,594.6 1564.2,595.2 1567.1,595.8 1570.1,596.4 1573.0,597.0 1575.9,597.6 1578.9,598.3 1581.8,598.9 1584.7,599.6 1587.7,600.3 1590.6,600.9 1593.5,601.6 1596.4,602.2 1599.4,602.8 1602.3,603.4 1605.2,604.1 1608.1,604.9 1611.0,605.7 1613.8,606.7 1616.6,607.9 1619.1,609.4 1621.4,611.2 1623.3,613.4 1625.2,615.7 1627.1,617.9 1629.4,619.8 1631.9,621.3 1634.6,622.4 1637.4,623.3 1640.3,624.1 1643.3,624.8 1646.2,625.4 1649.1,626.1 1652.0,626.8 1654.9,627.7 1657.8,628.6 1660.6,629.7 1663.3,630.8 1666.1,632.0 1668.8,633.2 1671.5,634.5 1674.2,635.9 1676.9,637.2 1679.5,638.7 1682.1,640.2 1684.6,641.8 1687.1,643.4 1689.5,645.2 1691.8,647.2 1693.9,649.2 1695.9,651.5 1697.7,653.9 1699.4,656.4 1701.0,658.9 1702.5,661.5 1704.1,664.0 1705.8,666.5 1707.5,669.0 1709.1,671.5 1710.9,673.9 1712.7,676.3 1714.7,678.6 1716.7,680.7 1718.8,682.9 1721.0,684.9 1723.2,686.9 1725.5,689.0 1727.7,691.0 1729.9,693.0 1732.0,695.1 1734.1,697.3 1736.2,699.4 1738.2,701.7 1740.2,703.9 1742.1,706.2 1744.1,708.5 1746.0,710.8 1747.9,713.1 1749.9,715.3 1751.9,717.6 1754.0,719.7 1756.1,721.9 1758.2,724.0 1760.3,726.2 1762.3,728.4 1764.2,730.7 1766.1,733.0 1768.0,735.4 1769.8,737.7 1771.7,740.1 1773.5,742.5 1775.3,744.9 1777.1,747.3 1778.9,749.7 1780.6,752.1 1782.4,754.6 1784.2,757.0 1785.9,759.5 1787.6,761.9 1789.4,764.3 1791.1,766.8 1792.9,769.2 1794.6,771.7 1796.3,774.1 1798.0,776.6 1799.7,779.1 1801.4,781.6 1803.1,784.1 1804.7,786.6 1806.3,789.1 1807.8,791.7 1809.4,794.3 1810.8,796.9 1812.3,799.5 1813.7,802.2 1815.0,804.9 1816.4,807.5 1817.7,810.2 1819.0,813.0 1820.2,815.7 1821.4,818.4 1822.6,821.2 1823.8,824.0 1824.9,826.7 1826.1,829.5 1827.2,832.3 1828.2,835.1 1829.3,837.9 1830.3,840.7 1831.3,843.6 1832.3,846.4 1833.2,849.3 1834.1,852.1 1834.9,855.0 1835.8,857.9 1836.6,860.8 1837.4,863.7 1838.3,866.5 1839.1,869.4 1839.8,872.3 1840.6,875.2 1841.4,878.1 1842.2,881.0 1843.0,883.9 1843.7,886.8 1844.5,889.7 1845.2,892.6 1845.9,895.6 1846.7,898.5 1847.4,901.4 1848.1,904.3 1848.8,907.2 1849.5,910.1 1850.2,913.1 1850.9,916.0 1851.6,918.9 1852.3,921.8 1853.0,924.7 1853.7,927.6 1854.4,930.6 1855.1,933.5 1855.8,936.4 1856.5,939.3 1857.2,942.2 1857.9,945.2 1858.5,948.1 1859.2,951.0 1859.8,954.0 1860.4,956.9 1861.0,959.8 1861.6,962.8 1862.2,965.7 1862.8,968.7 1863.3,971.6 1863.9,974.6 1864.5,977.5 1865.0,980.5 1865.6,983.4 1866.1,986.4 1866.7,989.3" stroke="#00FFFF" stroke-width="10" fill="none" stroke-linecap="round" stroke-linejoin="round"/>
<path d="M561.0,296.0 563.6,297.5 566.2,298.9 568.9,300.4 571.5,301.8 574.1,303.3 576.8,304.7 579.4,306.1 582.1,307.5 584.7,308.9 587.4,310.2 590.1,311.6 592.8,312.9 595.4,314.3 598.0,315.8 600.6,317.3 603.2,318.8 605.7,320.4 608.3,322.1 610.7,323.7 613.2,325.5 615.6,327.2 618.0,329.1 620.3,330.9 622.7,332.8 624.9,334.8 627.2,336.8 629.5,338.7 631.7,340.7 634.0,342.7 636.2,344.7 638.4,346.7 640.6,348.8 642.8,350.8 644.9,352.9 647.0,355.1 649.0,357.3 651.0,359.5 653.0,361.8 654.8,364.2 656.6,366.6 658.3,369.0 660.0,371.5 661.5,374.1 663.0,376.7 664.4,379.3 665.8,382.0 667.1,384.7 668.3,387.4 669.5,390.2 670.6,393.0 671.7,395.8 672.8,398.6 673.8,401.4 675.0,404.2 676.1,406.9 677.3,409.7 678.6,412.4 679.9,415.1 681.2,417.8 682.5,420.5 683.8,423.2 685.1,425.9 686.4,428.6 687.7,431.3 688.9,434.1 690.1,436.8 691.3,439.6 692.4,442.3 693.5,445.2 694.5,448.0 695.4,450.8 696.2,453.7 697.1,456.6 697.9,459.5 698.8,462.4 699.6,465.2 700.5,468.1 701.3,471.0 702.2,473.9 703.1,476.7 703.9,479.6 704.8,482.5 705.7,485.3 706.6,488.2 707.5,491.1 708.4,493.9 709.3,496.8 710.2,499.6 711.1,502.5 712.0,505.4 712.9,508.2 713.7,511.1 714.5,514.0 715.4,516.9 716.1,519.8 716.9,522.7 717.7,525.6 718.4,528.5 719.1,531.4 719.8,534.3 720.5,537.2 721.2,540.2 722.0,543.1 722.7,546.0 723.4,548.9 724.2,551.8 724.9,554.7 725.7,557.6 726.4,560.5 727.2,563.4 728.0,566.3 728.7,569.2 729.5,572.1 730.3,575.0 731.1,577.9 731.9,580.8 732.8,583.7 733.6,586.5 734.5,589.4 735.3,592.3 736.2,595.2 737.1,598.0 738.0,600.9 738.9,603.7 739.9,606.6 740.8,609.4 741.7,612.3 742.7,615.1 743.6,618.0 744.6,620.8 745.6,623.7 746.5,626.5 747.5,629.3 748.5,632.2 749.4,635.0 750.4,637.9 751.4,640.7 752.4,643.5 753.4,646.3 754.5,649.2 755.5,652.0 756.6,654.8 757.7,657.5 758.9,660.3 760.1,663.1 761.3,665.8 762.6,668.5 763.8,671.2 765.1,674.0 766.4,676.7 767.7,679.4 769.1,682.0 770.4,684.7 771.8,687.4 773.3,690.0 774.7,692.6 776.2,695.2 777.7,697.8 779.3,700.4 780.9,702.9 782.5,705.4 784.2,707.9 786.0,710.3 787.8,712.7 789.6,715.1 791.5,717.5 793.4,719.8 795.3,722.1 797.3,724.3 799.3,726.5 801.3,728.8 803.4,730.9 805.5,733.1 807.6,735.2 809.8,737.2 812.0,739.2 814.3,741.2 816.6,743.1 819.0,744.9 821.4,746.7 823.9,748.4 826.4,750.1 828.9,751.6 831.5,753.1 834.2,754.5 836.9,755.8 839.6,756.9 842.4,758.0 845.3,758.9 848.2,759.6 851.1,760.0 854.1,760.2 857.0,760.0 859.9,759.5 862.8,758.7 865.5,757.6 868.1,756.2 870.6,754.6 872.9,752.8 875.2,750.8 877.3,748.7 879.3,746.5 881.2,744.2 883.1,741.8 884.8,739.4 886.4,736.9 888.0,734.3 889.5,731.7 890.9,729.1 892.3,726.4 893.7,723.8 895.1,721.1 896.4,718.4 897.7,715.7 899.0,713.0 900.3,710.3 901.6,707.6 902.9,704.9 904.2,702.2 905.5,699.5 906.7,696.7 908.0,694.0 909.2,691.3 910.4,688.5 911.6,685.8 912.8,683.0 913.9,680.2 915.0,677.4 916.0,674.6 917.1,671.8 918.1,669.0 919.1,666.2 920.2,663.4 921.3,660.6 922.4,657.8 923.5,655.0 924.6,652.2 925.7,649.4 926.8,646.6 928.0,643.9 929.2,641.1 930.3,638.4 931.5,635.6 932.7,632.9 934.0,630.1 935.2,627.4 936.5,624.7 937.9,622.0 939.2,619.3 940.6,616.7 942.0,614.0 943.4,611.4 944.9,608.7 946.4,606.1 947.9,603.6 949.4,601.0 951.0,598.4 952.6,595.9 954.2,593.4 955.9,590.8 957.5,588.4 959.2,585.9 961.0,583.5 962.8,581.0 964.5,578.6 966.4,576.2 968.2,573.9 970.1,571.5 972.0,569.2 973.9,566.9 975.8,564.6 977.7,562.3 979.7,560.1 981.8,557.9 983.9,555.7 986.1,553.7 988.3,551.7 990.6,549.7 992.9,547.9 995.3,546.0 997.7,544.3 1000.2,542.5 1002.6,540.8 1005.1,539.2 1007.6,537.5 1010.2,535.9 1012.7,534.3 1015.3,532.7 1017.8,531.2 1020.4,529.7 1023.1,528.3 1025.8,527.0 1028.5,525.7 1031.2,524.5 1034.0,523.4 1036.9,522.4 1039.7,521.5 1042.6,520.7 1045.5,519.9 1048.4,519.2 1051.3,518.5 1054.3,517.9 1057.2,517.3 1060.1,516.8 1063.1,516.2 1066.1,515.7 1069.0,515.2 1072.0,514.7 1074.9,514.2 1077.9,513.6 1080.8,513.1 1083.8,512.6 1086.7,512.1 1089.7,511.6 1092.7,511.1 1095.6,510.7 1098.6,510.2 1101.6,509.8 1104.5,509.4 1107.5,509.0 1110.5,508.6 1113.5,508.3 1116.5,508.0 1119.4,507.7 1122.4,507.4 1125.4,507.1 1128.4,506.8 1131.4,506.6 1134.4,506.4 1137.4,506.2 1140.4,506.0 1143.4,505.8 1146.4,505.7 1149.4,505.5 1152.4,505.3 1155.4,505.2 1158.4,505.1 1161.3,504.9 1164.3,504.8 1167.3,504.7 1170.3,504.6 1173.3,504.5 1176.3,504.5 1179.3,504.4 1182.3,504.4 1185.3,504.4 1188.3,504.4 1191.3,504.5 1194.3,504.6 1197.3,504.7 1200.3,504.8 1203.3,504.9 1206.3,505.1 1209.3,505.3 1212.3,505.5 1215.3,505.7 1218.3,505.9 1221.3,506.1 1224.3,506.4 1227.3,506.7 1230.3,507.0 1233.2,507.4 1236.2,507.7 1239.2,508.1 1242.2,508.5 1245.1,508.9 1248.1,509.3 1251.1,509.7 1254.1,510.1 1257.0,510.5 1260.0,510.8 1263.0,511.2 1266.0,511.5 1268.9,511.9 1271.9,512.2 1274.9,512.6 1277.9,512.9 1280.9,513.3 1283.9,513.6 1286.8,513.9 1289.8,514.3 1292.8,514.6 1295.8,515.0 1298.8,515.3 1301.7,515.6 1304.7,516.0 1307.7,516.3 1310.7,516.7 1313.7,517.1 1316.6,517.4 1319.6,517.8 1322.6,518.1 1325.6,518.5 1328.6,518.8 1331.5,519.2 1334.5,519.5 1337.5,519.9 1340.5,520.2 1343.5,520.6 1346.4,521.0 1349.4,521.4 1352.4,521.7 1355.4,522.1 1358.3,522.5 1361.3,522.9 1364.3,523.4 1367.2,523.8 1370.2,524.3 1373.2,524.7 1376.1,525.2 1379.1,525.7 1382.0,526.2 1385.0,526.8 1387.9,527.3 1390.9,527.9 1393.8,528.4 1396.8,529.0 1399.7,529.6 1402.7,530.1 1405.6,530.7 1408.6,531.3 1411.5,531.8 1414.5,532.4 1417.4,532.9 1420.4,533.4 1423.3,533.9 1426.3,534.4 1429.3,534.9 1432.2,535.4 1435.2,535.8 1438.2,536.3 1441.1,536.7 1444.1,537.2 1447.1,537.6 1450.0,538.0 1453.0,538.5 1456.0,538.9 1458.9,539.3 1461.9,539.8 1464.9,540.2 1467.8,540.7 1470.8,541.1 1473.8,541.6 1476.7,542.0 1479.7,542.5 1482.7,542.9 1485.6,543.4 1488.6,543.8 1491.6,544.2 1494.5,544.7 1497.5,545.1 1500.5,545.5 1503.4,546.0 1506.4,546.4 1509.4,546.9 1512.3,547.4 1515.3,547.8 1518.3,548.4 1521.2,548.9 1524.2,549.5 1527.1,550.1 1530.0,550.7 1533.0,551.3 1535.9,552.0 1538.8,552.7 1541.7,553.5 1544.6,554.2 1547.5,555.0 1550.4,555.8 1553.3,556.7 1556.1,557.5 1559.0,558.4 1561.9,559.2 1564.8,560.1 1567.6,561.0 1570.5,561.9 1573.3,562.9 1576.2,563.8 1579.0,564.8 1581.9,565.7 1584.7,566.7 1587.5,567.7 1590.4,568.7 1593.2,569.7 1596.0,570.7 1598.8,571.7 1601.7,572.7 1604.5,573.8 1607.3,574.9 1610.0,576.0 1612.8,577.2 1615.6,578.4 1618.3,579.6 1621.0,580.9 1623.7,582.3 1626.3,583.7 1628.9,585.2 1631.5,586.7 1634.1,588.2 1636.6,589.8 1639.1,591.5 1641.6,593.2 1644.0,595.0 1646.4,596.8 1648.7,598.7 1650.9,600.7 1653.1,602.7 1655.2,604.9 1657.2,607.1 1659.1,609.4 1661.1,611.7 1663.0,614.0 1665.0,616.2 1667.2,618.3 1669.4,620.3 1671.7,622.1 1674.1,623.9 1676.6,625.6 1679.1,627.2 1681.7,628.8 1684.3,630.3 1686.8,631.9 1689.3,633.5 1691.8,635.2 1694.2,637.0 1696.6,638.9 1698.8,640.8 1701.1,642.8 1703.3,644.8 1705.4,646.9 1707.5,649.0 1709.6,651.2 1711.7,653.4 1713.7,655.6 1715.7,657.8 1717.7,660.0 1719.7,662.3 1721.7,664.5 1723.7,666.8 1725.6,669.1 1727.5,671.4 1729.4,673.7 1731.3,676.1 1733.2,678.4 1735.0,680.8 1736.8,683.2 1738.6,685.6 1740.5,688.0 1742.2,690.4 1744.0,692.8 1745.8,695.2 1747.6,697.6 1749.3,700.0 1751.1,702.5 1752.8,705.0 1754.5,707.4 1756.1,709.9 1757.7,712.5 1759.3,715.0 1760.8,717.6 1762.3,720.2 1763.6,722.9 1765.0,725.6 1766.3,728.3 1767.5,731.0 1768.8,733.7 1770.1,736.5 1771.3,739.2 1772.5,741.9 1773.8,744.7 1775.0,747.4 1776.2,750.2 1777.4,752.9 1778.6,755.7 1779.7,758.4 1780.9,761.2 1782.0,764.0 1783.2,766.7 1784.3,769.5 1785.5,772.3 1786.6,775.1 1787.7,777.9 1788.8,780.6 1789.9,783.4 1790.9,786.2 1792.0,789.1 1793.0,791.9 1794.0,794.7 1795.0,797.5 1796.0,800.4 1796.9,803.2 1797.8,806.1 1798.7,809.0 1799.5,811.8 1800.4,814.7 1801.2,817.6 1802.0,820.5 1802.8,823.4 1803.6,826.3 1804.4,829.2 1805.1,832.1 1805.9,835.0 1806.6,837.9 1807.3,840.8 1808.0,843.7 1808.7,846.7 1809.4,849.6 1810.1,852.5 1810.7,855.4 1811.4,858.4 1812.0,861.3 1812.7,864.2 1813.4,867.1 1814.1,870.0 1814.7,873.0 1815.4,875.9 1816.1,878.8 1816.8,881.7 1817.4,884.7 1818.1,887.6 1818.7,890.5 1819.3,893.5 1819.9,896.4 1820.5,899.3 1821.1,902.3 1821.7,905.2 1822.2,908.2 1822.8,911.1 1823.4,914.1 1823.9,917.0 1824.2,918.5" stroke="#8000FF" stroke-width="10" fill="none" stroke-linecap="round" stroke-linejoin="round"/>
<path d="M527.0,344.0 529.4,342.2 531.8,340.5 534.3,338.7 536.8,337.1 539.4,335.6 542.1,334.3 544.8,333.2 547.7,332.3 550.6,331.7 553.5,331.4 556.5,331.4 559.4,331.7 562.4,332.1 565.3,332.7 568.3,333.3 571.2,334.0 574.1,334.7 577.0,335.4 580.0,336.0 582.9,336.7 585.8,337.3 588.8,338.0 591.7,338.7 594.6,339.5 597.4,340.3 600.3,341.3 603.1,342.3 605.9,343.4 608.7,344.5 611.4,345.8 614.1,347.0 616.8,348.3 619.5,349.6 622.2,351.0 624.9,352.4 627.5,353.8 630.1,355.3 632.7,356.8 635.3,358.4 637.8,360.1 640.2,361.8 642.7,363.5 645.0,365.4 647.3,367.3 649.5,369.3 651.7,371.4 653.8,373.6 655.7,375.8 657.6,378.1 659.4,380.5 661.1,383.0 662.8,385.5 664.4,388.0 666.0,390.6 667.6,393.1 669.2,395.6 670.9,398.1 672.5,400.6 674.2,403.1 675.8,405.7 677.5,408.2 679.1,410.7 680.8,413.2 682.4,415.7 684.0,418.3 685.6,420.8 687.1,423.4 688.7,426.0 690.2,428.5 691.7,431.1 693.2,433.8 694.6,436.4 696.0,439.0 697.4,441.7 698.7,444.4 700.1,447.1 701.4,449.8 702.7,452.5 703.9,455.2 705.2,458.0 706.4,460.7 707.6,463.4 708.9,466.2 710.1,468.9 711.4,471.6 712.6,474.3 713.9,477.1 715.3,479.7 716.6,482.4 718.0,485.1 719.3,487.8 720.7,490.4 722.1,493.1 723.5,495.8 724.9,498.4 726.3,501.1 727.8,503.7 729.2,506.3 730.8,508.9 732.4,511.4 734.0,514.0 735.7,516.4 737.4,518.9 739.1,521.3 740.9,523.7 742.8,526.1 744.6,528.5 746.5,530.8 748.5,533.1 750.5,535.3 752.6,537.5 754.7,539.6 756.8,541.7 759.0,543.8 761.3,545.7 763.5,547.7 765.8,549.6 768.2,551.5 770.5,553.4 772.9,555.2 775.3,557.0 777.7,558.8 780.2,560.5 782.7,562.1 785.2,563.7 787.8,565.3 790.4,566.8 793.0,568.3 795.6,569.7 798.3,571.1 801.1,572.3 803.8,573.4 806.7,574.4 809.5,575.3 812.4,576.0 815.4,576.6 818.3,577.1 821.3,577.4 824.3,577.7 827.3,577.8 830.3,577.8 833.3,577.7 836.2,577.4 839.2,577.1 842.2,576.7 845.1,576.1 848.1,575.5 851.0,574.8 853.9,574.0 856.8,573.1 859.6,572.3 862.5,571.3 865.3,570.3 868.1,569.3 870.9,568.3 873.8,567.2 876.6,566.1 879.4,565.0 882.1,563.9 884.9,562.8 887.7,561.7 890.5,560.5 893.3,559.4 896.1,558.3 898.9,557.2 901.7,556.2 904.6,555.3 907.4,554.5 910.3,553.7 913.3,553.1 916.2,552.5 919.2,552.0 922.1,551.6 925.1,551.2 928.1,550.9 931.1,550.6 934.1,550.4 937.1,550.3 940.1,550.2 943.1,550.1 946.1,550.1 949.1,550.1 952.1,550.2 955.1,550.3 958.1,550.4 961.1,550.6 964.1,550.7 967.1,550.9 970.1,551.1 973.1,551.3 976.1,551.5 979.1,551.7 982.1,551.9 985.0,552.1 988.0,552.4 991.0,552.7 994.0,552.9 997.0,553.2 1000.0,553.5 1003.0,553.7 1006.0,554.0 1009.0,554.2 1012.0,554.4 1015.0,554.7 1018.0,554.9 1020.9,555.1 1023.9,555.4 1026.9,555.6 1029.9,555.9 1032.9,556.1 1035.9,556.4 1038.9,556.6 1041.9,556.9 1044.9,557.2 1047.9,557.5 1050.9,557.7 1053.8,558.1 1056.8,558.4 1059.8,558.7 1062.8,559.0 1065.8,559.3 1068.8,559.6 1071.8,559.9 1074.8,560.2 1077.7,560.5 1080.7,560.8 1083.7,561.1 1086.7,561.4 1089.7,561.7 1092.7,562.0 1095.7,562.3 1098.6,562.6 1101.6,562.9 1104.6,563.2 1107.6,563.5 1110.6,563.8 1113.6,564.1 1116.6,564.4 1119.6,564.7 1122.6,565.0 1125.5,565.3 1128.5,565.6 1131.5,565.9 1134.5,566.1 1137.5,566.4 1140.5,566.7 1143.5,566.9 1146.5,567.2 1149.5,567.4 1152.5,567.7 1155.5,567.9 1158.4,568.2 1161.4,568.4 1164.4,568.7 1167.4,568.9 1170.4,569.1 1173.4,569.4 1176.4,569.6 1179.4,569.9 1182.4,570.1 1185.4,570.3 1188.4,570.6 1191.4,570.8 1194.4,571.0 1197.4,571.2 1200.4,571.4 1203.3,571.6 1206.3,571.8 1209.3,572.0 1212.3,572.2 1215.3,572.4 1218.3,572.6 1221.3,572.9 1224.3,573.2 1227.3,573.6 1230.3,574.0 1233.2,574.4 1236.2,575.0 1239.1,575.6 1242.0,576.3 1244.9,577.1 1247.8,577.9 1250.7,578.7 1253.6,579.6 1256.4,580.5 1259.3,581.4 1262.2,582.3 1265.0,583.2 1267.9,584.1 1270.8,584.9 1273.7,585.7 1276.6,586.4 1279.5,586.9 1282.5,587.4 1285.5,587.7 1288.5,588.0 1291.4,588.3 1294.4,588.5 1297.4,588.8 1300.4,589.0 1303.4,589.3 1306.4,589.6 1309.4,589.9 1312.4,590.2 1315.4,590.5 1318.3,590.8 1321.3,591.2 1324.3,591.5 1327.3,591.8 1330.3,592.1 1333.3,592.4 1336.3,592.8 1339.2,593.1 1342.2,593.5 1345.2,593.8 1348.2,594.2 1351.2,594.5 1354.1,594.9 1357.1,595.2 1360.1,595.6 1363.1,595.9 1366.1,596.3 1369.1,596.6 1372.0,596.9 1375.0,597.2 1378.0,597.5 1381.0,597.8 1384.0,598.1 1387.0,598.4 1390.0,598.7 1393.0,599.0 1395.9,599.3 1398.9,599.6 1401.9,599.8 1404.9,600.1 1407.9,600.4 1410.9,600.7 1413.9,601.0 1416.9,601.3 1419.9,601.6 1422.8,601.9 1425.8,602.2 1428.8,602.4 1431.8,602.7 1434.8,603.0 1437.8,603.3 1440.8,603.6 1443.8,603.9 1446.8,604.2 1449.7,604.5 1452.7,604.8 1455.7,605.1 1458.7,605.4 1461.7,605.7 1464.7,606.0 1467.7,606.3 1470.6,606.6 1473.6,606.9 1476.6,607.3 1479.6,607.6 1482.6,608.0 1485.6,608.3 1488.5,608.7 1491.5,609.0 1494.5,609.4 1497.5,609.7 1500.5,610.1 1503.4,610.5 1506.4,610.9 1509.4,611.2 1512.4,611.6 1515.4,612.0 1518.3,612.5 1521.3,612.9 1524.3,613.3 1527.2,613.8 1530.2,614.3 1533.2,614.7 1536.1,615.2 1539.1,615.7 1542.1,616.2 1545.0,616.7 1548.0,617.2 1550.9,617.7 1553.9,618.2 1556.8,618.8 1559.8,619.3 1562.7,619.9 1565.7,620.5 1568.6,621.1 1571.6,621.7 1574.5,622.4 1577.4,623.1 1580.3,623.8 1583.2,624.5 1586.1,625.3 1589.0,626.1 1591.9,627.0 1594.8,627.8 1597.7,628.7 1600.5,629.6 1603.4,630.5 1606.2,631.5 1609.1,632.4 1611.9,633.4 1614.7,634.4 1617.5,635.5 1620.4,636.5 1623.2,637.6 1625.9,638.7 1628.7,639.9 1631.5,641.0 1634.3,642.2 1637.0,643.4 1639.7,644.7 1642.4,646.0 1645.1,647.3 1647.8,648.7 1650.5,650.1 1653.1,651.5 1655.7,653.0 1658.3,654.5 1660.9,656.0 1663.4,657.6 1666.0,659.2 1668.5,660.8 1671.0,662.5 1673.5,664.2 1675.9,665.9 1678.3,667.7 1680.7,669.6 1683.0,671.5 1685.3,673.4 1687.5,675.4 1689.7,677.5 1691.9,679.5 1694.1,681.6 1696.2,683.7 1698.4,685.8 1700.6,687.8 1702.7,689.9 1704.9,692.0 1707.0,694.1 1709.1,696.3 1711.1,698.5 1713.1,700.7 1715.0,703.0 1716.9,705.4 1718.7,707.8 1720.5,710.2 1722.2,712.7 1723.9,715.2 1725.6,717.6 1727.3,720.1 1729.0,722.6 1730.7,725.1 1732.4,727.5 1734.1,730.0 1735.8,732.5 1737.5,734.9 1739.3,737.4 1741.0,739.8 1742.7,742.3 1744.4,744.8 1746.0,747.3 1747.5,749.9 1749.0,752.5 1750.4,755.2 1751.7,757.8 1753.1,760.5 1754.3,763.3 1755.6,766.0 1756.8,768.7 1758.0,771.5 1759.2,774.3 1760.3,777.0 1761.3,779.9 1762.3,782.7 1763.1,785.6 1763.9,788.5 1764.6,791.4 1765.2,794.3 1765.7,797.3 1766.2,800.2 1766.6,803.2 1767.0,806.2 1767.3,809.2 1767.6,812.2 1767.9,815.1 1768.2,818.1 1768.6,821.1 1769.0,824.1 1769.5,827.0 1770.0,830.0" stroke="#FF8000" stroke-width="10" fill="none" stroke-linecap="round" stroke-linejoin="round"/>
</svg>
</body></html>
